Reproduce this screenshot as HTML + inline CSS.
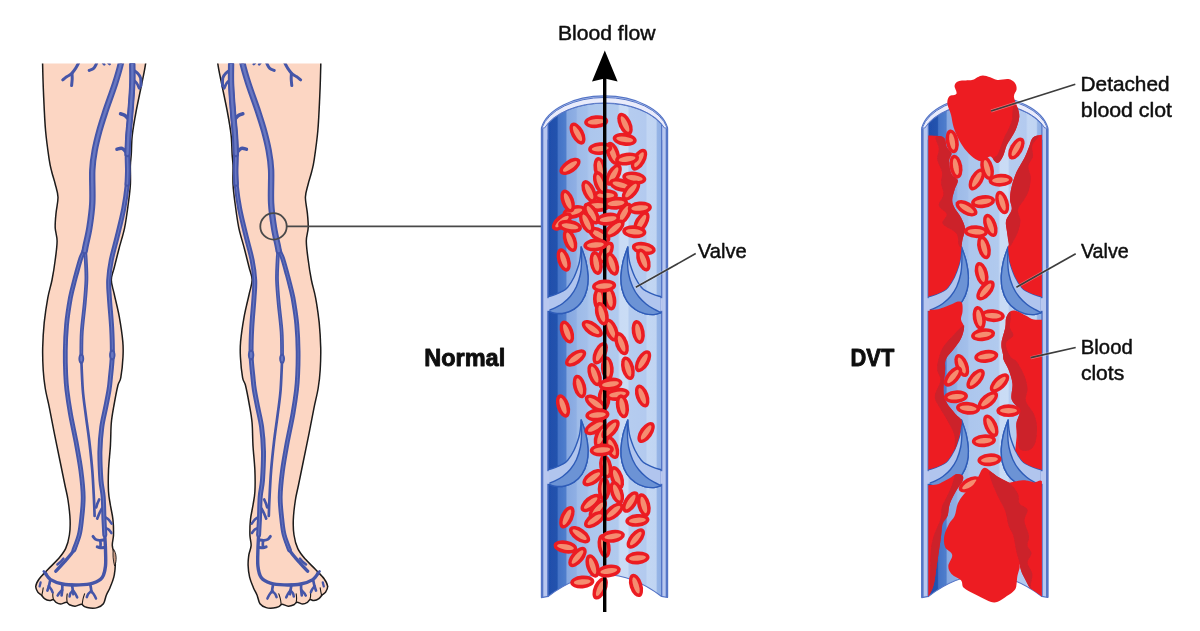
<!DOCTYPE html>
<html><head><meta charset="utf-8"><title>DVT diagram</title>
<style>html,body{margin:0;padding:0;background:#fff}body{width:1200px;height:631px;overflow:hidden;font-family:"Liberation Sans",sans-serif}svg{display:block}text{font-family:"Liberation Sans",sans-serif}</style>
</head><body>
<svg width="1200" height="631" viewBox="0 0 1200 631">
<defs>
<clipPath id="legclip"><rect x="0" y="63.4" width="200" height="570"/></clipPath>
<linearGradient id="lumN" gradientUnits="userSpaceOnUse" x1="547.5" y1="0" x2="662" y2="0"><stop offset="0.0000" stop-color="#1f4fab"/><stop offset="0.0830" stop-color="#2152ae"/><stop offset="0.0952" stop-color="#4473c6"/><stop offset="0.1581" stop-color="#4f7dcc"/><stop offset="0.1721" stop-color="#86a8e0"/><stop offset="0.2489" stop-color="#8fafe4"/><stop offset="0.2629" stop-color="#9ebbe8"/><stop offset="0.3450" stop-color="#a3bfea"/><stop offset="0.3624" stop-color="#acc6ed"/><stop offset="0.6157" stop-color="#b1caee"/><stop offset="0.6332" stop-color="#c9dbf5"/><stop offset="0.6996" stop-color="#cadcf5"/><stop offset="0.7153" stop-color="#b5ccef"/><stop offset="0.8568" stop-color="#b3caef"/><stop offset="0.8725" stop-color="#c2d6f3"/><stop offset="0.9476" stop-color="#c0d4f2"/><stop offset="0.9598" stop-color="#96b4e6"/><stop offset="1.0000" stop-color="#8eaee3"/></linearGradient><clipPath id="lumclipN"><path d="M548,123.4 A64,38.4 0 0 1 661.6,124.1 L661.6,596.5 Q604.5,553 548,596.5 Z"/></clipPath>
<linearGradient id="lumD" gradientUnits="userSpaceOnUse" x1="927.8" y1="0" x2="1042.3" y2="0"><stop offset="0.0000" stop-color="#1f4fab"/><stop offset="0.0830" stop-color="#2152ae"/><stop offset="0.0952" stop-color="#4473c6"/><stop offset="0.1581" stop-color="#4f7dcc"/><stop offset="0.1721" stop-color="#86a8e0"/><stop offset="0.2489" stop-color="#8fafe4"/><stop offset="0.2629" stop-color="#9ebbe8"/><stop offset="0.3450" stop-color="#a3bfea"/><stop offset="0.3624" stop-color="#acc6ed"/><stop offset="0.6157" stop-color="#b1caee"/><stop offset="0.6332" stop-color="#c9dbf5"/><stop offset="0.6996" stop-color="#cadcf5"/><stop offset="0.7153" stop-color="#b5ccef"/><stop offset="0.8568" stop-color="#b3caef"/><stop offset="0.8725" stop-color="#c2d6f3"/><stop offset="0.9476" stop-color="#c0d4f2"/><stop offset="0.9598" stop-color="#96b4e6"/><stop offset="1.0000" stop-color="#8eaee3"/></linearGradient><clipPath id="lumclipD"><path d="M928.3,123.4 A64,38.4 0 0 1 1041.9,124.1 L1041.9,596.5 Q984.8,553 928.3,596.5 Z"/></clipPath>
<clipPath id="clipbelowD"><path d="M900,0 L1100,0 L1100,596.3 L1041.9,596.3 Q984.8,553 928.3,596.3 L900,596.3Z"/></clipPath>
<filter id="soft" x="-2%" y="-2%" width="104%" height="104%"><feGaussianBlur stdDeviation="0.55"/></filter>
</defs>
<rect width="1200" height="631" fill="#fff"/>
<g filter="url(#soft)">
<g id="leg-left"><g clip-path="url(#legclip)"><path d="M42.2,40C24.6,43.9 42.4,54.8 42.6,63.6C42.8,72.4 43,81.8 43.5,93C44,104.2 44.6,119.9 45.6,131C46.6,142.1 48.2,152.8 49.2,159.6C50.2,166.4 50.8,167.9 51.8,172C52.8,176.1 54.2,179.8 55.2,184C56.2,188.2 57.9,192.5 58,197.3C58.1,202.1 56.6,207.5 56.1,212.6C55.6,217.7 55,223.1 55.2,227.8C55.4,232.5 57.1,235.6 57.1,241C57.1,246.4 56.1,253.5 55.2,260C54.4,266.5 53.2,273.7 52,280C50.8,286.3 49.1,290.7 47.8,297.8C46.5,304.9 45.1,314.4 44.2,322.6C43.4,330.9 42.9,339.4 42.7,347.3C42.5,355.2 42.8,363.2 43.2,370C43.6,376.8 44.2,381.7 45.2,388C46.2,394.3 47.9,400.4 49.4,407.8C50.9,415.2 52.4,423.7 54.2,432.6C56,441.5 58.2,452.4 60,461C61.8,469.6 63.4,477.5 64.7,484C66,490.5 67.1,494 68,500C68.9,506 69.9,514.2 70.1,520C70.3,525.8 70.2,530.2 69.4,535C68.7,539.8 67.5,544.6 65.6,548.6C63.7,552.6 61.1,555.6 58.1,559.1C55.1,562.6 50.7,566.4 47.6,569.7C44.5,573 41.3,576 39.3,578.7C37.3,581.5 36,584 35.8,586.2C35.5,588.5 36.8,590.7 37.8,592.2C38.8,593.7 40.5,594.3 41.6,595.4C42.7,596.5 43.2,597.7 44.5,598.6C45.8,599.5 48,600.4 49.5,600.6C51,600.8 52.3,599.3 53.4,599.6C54.5,599.9 54.8,601.7 56,602.4C57.2,603.1 58.9,604 60.6,604C62.3,604 64.9,602.1 66.4,602.2C67.9,602.3 68,604.1 69.5,604.8C71,605.5 73.2,606.3 75.2,606.2C77.2,606.1 79.9,604.2 81.4,604.3C83,604.4 83.1,606 84.5,606.6C85.9,607.2 87.9,607.8 90,608C92.1,608.2 95,608.3 97.2,607.6C99.4,606.9 101.9,605.9 103.4,603.8C104.9,601.7 105.2,597.9 106.3,595.2C107.4,592.5 108.8,590.7 110,587.7C111.2,584.7 112.9,581 113.8,577.2C114.7,573.4 115.2,568.9 115.3,565.1C115.4,561.3 115,557.9 114.5,554.6C114,551.4 112.5,548.9 112.3,545.6C112.1,542.3 113.4,539.3 113.5,535C113.6,530.7 113.5,525 113,520C112.5,515 111.2,509.9 110.4,505.2C109.7,500.4 108.8,497.3 108.5,491.5C108.2,485.7 108.2,478.2 108.5,470.6C108.8,463 109.9,453.8 110.4,445.9C110.9,438 110.7,430 111.3,423C111.9,416 113.1,410.3 114.2,404C115.3,397.7 116.9,389.4 118,385C119.1,380.6 120,382.4 120.8,377.7C121.6,373 122.7,362.8 123,356.8C123.3,350.8 123.4,348.2 122.8,341.6C122.2,335 120.7,324.8 119.3,316.9C117.9,309 115.5,300.1 114.2,294C112.9,287.9 111.3,284.4 111.3,280C111.3,275.6 112.9,272.9 114.2,267.7C115.5,262.5 117.3,255.3 119,248.7C120.7,242 123,235.4 124.6,227.8C126.2,220.2 127.4,210.3 128.4,203C129.4,195.7 130.1,190.3 130.4,184C130.7,177.7 130.2,170 130.4,165C130.6,160 131,159 131.3,154C131.6,149 131.5,142 132.3,135C133.1,128 134.4,120.6 136,112C137.6,103.4 140.2,91.6 141.8,83.5C143.4,75.4 144.6,70.8 145.6,63.6C146.6,56.4 165.2,43.9 148,40C130.8,36.1 59.8,36.1 42.2,40Z" fill="#fcd6c3" stroke="#1d1a1a" stroke-width="1.5" stroke-linejoin="round"/><path d="M113.4,549 C116.6,553 117,561 114.6,566 C113.2,561 112.4,554 113.4,549Z" fill="#c99b84" stroke="#1d1a1a" stroke-width="0.9"/><path d="M41.8,595.4C41.9,594.8 42.4,592.9 42.6,591.6C42.8,590.3 43.1,588.4 43.2,587.8" fill="none" stroke="#1d1a1a" stroke-width="1.1" stroke-linecap="round"/><path d="M53.6,600C53.5,599.3 52.9,597.3 52.8,596C52.7,594.7 52.9,593 52.9,592.4" fill="none" stroke="#1d1a1a" stroke-width="1.1" stroke-linecap="round"/><path d="M67.2,602.6C67.1,601.9 66.8,599.7 66.8,598.2C66.8,596.8 67.1,594.6 67.2,593.9" fill="none" stroke="#1d1a1a" stroke-width="1.1" stroke-linecap="round"/><path d="M82.2,604.6C82.3,603.7 82.6,600.8 83,599C83.4,597.2 84.3,594.7 84.6,593.8" fill="none" stroke="#1d1a1a" stroke-width="1.1" stroke-linecap="round"/><path d="M62.8,79.9C63.5,79.4 65.5,77.6 67,76.6C68.5,75.5 70.2,75 71.6,73.6C73,72.2 74.4,70.2 75.6,68.4C76.8,66.6 78.1,63.9 78.6,63" fill="none" stroke="#4555a8" stroke-width="3" stroke-linecap="round"/><path d="M71.6,85.6C71.7,84.5 72.1,81 72.2,79C72.3,77 72,74.5 72,73.6" fill="none" stroke="#4555a8" stroke-width="3" stroke-linecap="round"/><path d="M89.2,70.4C89.9,70.1 92.5,69.4 93.6,68.4C94.7,67.4 95.4,65.8 96,64.6C96.6,63.4 97.2,61.6 97.4,61" fill="none" stroke="#4555a8" stroke-width="3" stroke-linecap="round"/><path d="M103.2,63.2C103.4,63.4 104,64.2 104.2,64.4" fill="none" stroke="#4555a8" stroke-width="2.6" stroke-linecap="round"/><path d="M108.6,63.2C108.8,63.4 109.4,64 109.6,64.2" fill="none" stroke="#4555a8" stroke-width="2.6" stroke-linecap="round"/><path d="M133,70C133.8,70.5 136.3,71.9 137.6,73.2C138.9,74.5 140.1,75.9 140.6,78C141.1,80.1 140.8,84.7 140.8,86" fill="none" stroke="#4555a8" stroke-width="3" stroke-linecap="round"/><path d="M133,80C133.6,80.5 135.5,81.6 136.6,83C137.7,84.4 138.9,87.5 139.4,88.4" fill="none" stroke="#4555a8" stroke-width="2.8" stroke-linecap="round"/><path d="M120.6,113.8C121.3,114 123.3,114.3 124.6,115.2C125.9,116.1 127.9,118.4 128.6,119" fill="none" stroke="#4555a8" stroke-width="3.6" stroke-linecap="round"/><path d="M117,149.2C117.8,149.1 120.4,147.8 122,148.4C123.6,149 126,151.9 126.8,152.6" fill="none" stroke="#4555a8" stroke-width="3.6" stroke-linecap="round"/><path d="M99.2,499.5C98.9,500.2 97.9,502.3 97.4,503.6C96.9,504.9 96.4,506.8 96.2,507.4" fill="none" stroke="#4555a8" stroke-width="2.7" stroke-linecap="round"/><path d="M101.8,508.6C101.4,509.4 100.2,511.5 99.4,513.2C98.6,514.9 97.6,517.7 97.2,518.6" fill="none" stroke="#4555a8" stroke-width="2.7" stroke-linecap="round"/><path d="M104.8,517C105.4,517.4 107.3,518.3 108.4,519.4C109.5,520.5 111.1,522.9 111.6,523.6" fill="none" stroke="#4555a8" stroke-width="2.6" stroke-linecap="round"/><path d="M105.4,528C105.9,528.2 107.6,528.6 108.6,529.4C109.6,530.2 110.9,532.4 111.4,533" fill="none" stroke="#4555a8" stroke-width="2.6" stroke-linecap="round"/><path d="M93,536.4C93.4,536.9 94.5,538.7 95.6,539.4C96.7,540.1 98.1,540.3 99.6,540.4C101.1,540.5 103.6,539.9 104.4,539.8" fill="none" stroke="#4555a8" stroke-width="2.9" stroke-linecap="round"/><path d="M97.2,546.8C97.7,547 99.2,547.7 100.4,547.8C101.6,547.9 103.7,547.5 104.4,547.4" fill="none" stroke="#4555a8" stroke-width="2.9" stroke-linecap="round"/><path d="M100.2,540.6C100.3,541.2 100.6,542.9 100.6,544C100.6,545.1 100.4,546.8 100.4,547.4" fill="none" stroke="#4555a8" stroke-width="2.7" stroke-linecap="round"/><path d="M57.4,564.4C57.9,564 59.6,562.8 60.6,561.8C61.6,560.8 62.9,559.1 63.4,558.6" fill="none" stroke="#4555a8" stroke-width="2.5" stroke-linecap="round"/><path d="M43.8,571.4C44.2,571.8 45.8,573.2 46.2,573.6" fill="none" stroke="#4555a8" stroke-width="2.5" stroke-linecap="round"/><path d="M50.2,580.2C50,581.1 49.5,583.9 49,585.6C48.5,587.3 47.7,589.8 47.4,590.6" fill="none" stroke="#4555a8" stroke-width="2.7" stroke-linecap="round"/><path d="M48.8,586C49.2,586.6 50.8,588.5 51.4,589.6C52,590.7 52.4,591.9 52.6,592.4" fill="none" stroke="#4555a8" stroke-width="2.5" stroke-linecap="round"/><path d="M40.6,582.4C40.4,583.1 39.8,585.7 39.6,586.4" fill="none" stroke="#4555a8" stroke-width="2.3" stroke-linecap="round"/><path d="M62.4,584.4C62.4,585.3 62.3,588.2 62.2,590C62.1,591.8 61.7,594.5 61.6,595.4" fill="none" stroke="#4555a8" stroke-width="2.7" stroke-linecap="round"/><path d="M62.2,590C61.7,590.5 60,592.3 59.2,593.2C58.4,594.1 57.9,595.2 57.6,595.6" fill="none" stroke="#4555a8" stroke-width="2.5" stroke-linecap="round"/><path d="M72,584.8C72.1,585.7 72.6,588.4 72.8,590C73,591.6 73.3,593.5 73.4,594.2" fill="none" stroke="#4555a8" stroke-width="2.7" stroke-linecap="round"/><path d="M72.9,590.4C73.4,591 74.9,593 75.6,594.2C76.3,595.4 76.9,596.9 77.2,597.4" fill="none" stroke="#4555a8" stroke-width="2.5" stroke-linecap="round"/><path d="M72.9,590.4C72.5,590.9 71,592.4 70.4,593.4C69.9,594.4 69.7,596.1 69.6,596.6" fill="none" stroke="#4555a8" stroke-width="2.5" stroke-linecap="round"/><path d="M90.2,584C90.3,584.7 90.8,587 91,588.4C91.2,589.8 91.3,591.6 91.4,592.2" fill="none" stroke="#4555a8" stroke-width="2.7" stroke-linecap="round"/><path d="M91.2,591C91.7,591.6 93.2,593.3 94,594.6C94.8,595.9 95.7,597.9 96,598.6" fill="none" stroke="#4555a8" stroke-width="2.5" stroke-linecap="round"/><path d="M91.2,591C90.7,591.5 88.9,593 88.2,594C87.5,595 87,596.7 86.8,597.2" fill="none" stroke="#4555a8" stroke-width="2.5" stroke-linecap="round"/><path d="M81.3,358.7C81.5,363.9 82.1,380.9 82.8,390C83.5,399.1 84.5,404.8 85.6,413.5C86.7,422.2 88.3,432.5 89.4,442C90.5,451.5 91.5,460.9 92.3,470.6C93.1,480.3 93.6,492.4 94,500C94.4,507.6 94.5,513.3 94.6,516" fill="none" stroke="#4555a8" stroke-width="2.7" stroke-linecap="round" stroke-linejoin="round"/><path d="M85,250C85.1,251.7 85.6,255 85.8,260C86,265 86.6,272.8 86.4,280C86.2,287.2 85.5,294.8 84.7,303.5C83.9,312.2 82.4,322.8 81.8,332C81.2,341.2 81.4,354.2 81.3,358.7" fill="none" stroke="#4555a8" stroke-width="3.8" stroke-linecap="round" stroke-linejoin="round"/><path d="M85,250C85.1,251.7 85.6,255 85.8,260C86,265 86.6,272.8 86.4,280C86.2,287.2 85.5,294.8 84.7,303.5C83.9,312.2 82.4,322.8 81.8,332C81.2,341.2 81.4,354.2 81.3,358.7" fill="none" stroke="#6877c1" stroke-width="0.7" stroke-linecap="round" stroke-linejoin="round"/><path d="M79.2,535C78.3,537.5 76.4,545.5 73.9,550C71.4,554.5 67.1,558.6 64.1,562.1C61.1,565.6 57.2,569.7 55.8,571.2" fill="none" stroke="#4555a8" stroke-width="3.4" stroke-linecap="round" stroke-linejoin="round"/><path d="M85.6,246C85.3,247 84.4,250 83.6,252C82.8,254 82,254.8 80.9,258C79.8,261.2 78,267.8 77,271.5C76,275.2 75.8,275.6 74.7,280C73.6,284.4 71.8,290.4 70.4,297.8C69.1,305.2 67.4,315.6 66.6,324.5C65.8,333.4 65.4,342.8 65.3,351C65.2,359.2 65.4,367.5 65.7,374C66,380.5 66.1,383.4 66.9,390C67.7,396.6 68.9,404.8 70.4,413.5C71.9,422.2 74.3,432.5 76.1,442C77.8,451.5 79.7,461.4 80.9,470.6C82.1,479.8 83.1,488.8 83.2,497C83.3,505.2 82.2,513.7 81.5,520C80.8,526.3 80.5,530 79.2,535C77.9,540 74.8,547.5 73.9,550" fill="none" stroke="#4555a8" stroke-width="4.8" stroke-linecap="round" stroke-linejoin="round"/><path d="M85.6,246C85.3,247 84.4,250 83.6,252C82.8,254 82,254.8 80.9,258C79.8,261.2 78,267.8 77,271.5C76,275.2 75.8,275.6 74.7,280C73.6,284.4 71.8,290.4 70.4,297.8C69.1,305.2 67.4,315.6 66.6,324.5C65.8,333.4 65.4,342.8 65.3,351C65.2,359.2 65.4,367.5 65.7,374C66,380.5 66.1,383.4 66.9,390C67.7,396.6 68.9,404.8 70.4,413.5C71.9,422.2 74.3,432.5 76.1,442C77.8,451.5 79.7,461.4 80.9,470.6C82.1,479.8 83.1,488.8 83.2,497C83.3,505.2 82.2,513.7 81.5,520C80.8,526.3 80.5,530 79.2,535C77.9,540 74.8,547.5 73.9,550" fill="none" stroke="#6877c1" stroke-width="0.9" stroke-linecap="round" stroke-linejoin="round"/><path d="M104,520C104.1,522.5 104.5,530 104.8,535C105,540 105.4,544.8 105.5,550C105.6,555.2 106,561.4 105.5,566C105,570.6 104.3,574.6 102.2,577.5C100.1,580.4 96.8,582 93,583.2C89.2,584.4 84.3,584.8 79.2,584.9C74.1,585 67.4,584.9 62.6,584C57.8,583.1 53.5,581.4 50.6,579.6C47.7,577.8 46.2,574.4 45.3,573.4" fill="none" stroke="#4555a8" stroke-width="3.4" stroke-linecap="round" stroke-linejoin="round"/><path d="M132.3,50C132.3,52.3 132.3,58 132.3,63.6C132.3,69.2 132.6,75.4 132.3,83.5C132,91.6 131.1,103.4 130.4,112C129.8,120.6 128.9,128 128.4,135C127.9,142 127.6,148.2 127.5,154C127.4,159.8 127.8,165 127.8,170C127.8,175 128,177.5 127.3,184C126.6,190.5 125.4,199.9 123.7,208.8C122,217.7 119.1,228.8 117,237.3C114.9,245.8 112.7,252.9 111.3,260C109.9,267.1 109,273.7 108.7,280C108.4,286.3 108.9,289.8 109.4,297.8C109.9,305.9 111.2,318.8 111.7,328.3C112.2,337.8 112.5,346.8 112.3,355C112.1,363.2 111,371.9 110.4,377.7C109.9,383.5 109.8,385 109,390C108.2,395 106.8,401.7 105.6,407.8C104.4,413.9 102.8,419.6 101.8,426.9C100.8,434.2 100.1,442.8 99.9,451.6C99.8,460.5 100.4,472.4 100.9,480C101.5,487.6 102.7,490.3 103.2,497C103.7,503.7 103.7,513.7 104,520C104.3,526.3 104.7,532.5 104.8,535" fill="none" stroke="#4555a8" stroke-width="5" stroke-linecap="round" stroke-linejoin="round"/><path d="M132.3,50C132.3,52.3 132.3,58 132.3,63.6C132.3,69.2 132.6,75.4 132.3,83.5C132,91.6 131.1,103.4 130.4,112C129.8,120.6 128.9,128 128.4,135C127.9,142 127.6,148.2 127.5,154C127.4,159.8 127.8,165 127.8,170C127.8,175 128,177.5 127.3,184C126.6,190.5 125.4,199.9 123.7,208.8C122,217.7 119.1,228.8 117,237.3C114.9,245.8 112.7,252.9 111.3,260C109.9,267.1 109,273.7 108.7,280C108.4,286.3 108.9,289.8 109.4,297.8C109.9,305.9 111.2,318.8 111.7,328.3C112.2,337.8 112.5,346.8 112.3,355C112.1,363.2 111,371.9 110.4,377.7C109.9,383.5 109.8,385 109,390C108.2,395 106.8,401.7 105.6,407.8C104.4,413.9 102.8,419.6 101.8,426.9C100.8,434.2 100.1,442.8 99.9,451.6C99.8,460.5 100.4,472.4 100.9,480C101.5,487.6 102.7,490.3 103.2,497C103.7,503.7 103.7,513.7 104,520C104.3,526.3 104.7,532.5 104.8,535" fill="none" stroke="#6877c1" stroke-width="1.1" stroke-linecap="round" stroke-linejoin="round"/><path d="M132.3,50C132.3,52.3 132.3,58 132.3,63.6C132.3,69.2 132.6,75.4 132.3,83.5C132,91.6 131.1,103.4 130.4,112C129.8,120.6 128.9,128 128.4,135C127.9,142 127.6,148.2 127.5,154C127.4,159.8 127.8,165 127.8,170C127.8,175 127.4,181.7 127.3,184" fill="none" stroke="#4555a8" stroke-width="5.6" stroke-linecap="round" stroke-linejoin="round"/><path d="M132.3,50C132.3,52.3 132.3,58 132.3,63.6C132.3,69.2 132.6,75.4 132.3,83.5C132,91.6 131.1,103.4 130.4,112C129.8,120.6 128.9,128 128.4,135C127.9,142 127.6,148.2 127.5,154C127.4,159.8 127.8,165 127.8,170C127.8,175 127.4,181.7 127.3,184" fill="none" stroke="#6877c1" stroke-width="1.7" stroke-linecap="round" stroke-linejoin="round"/><path d="M132.3,50C132.3,52.3 132.3,58 132.3,63.6C132.3,69.2 132.6,75.4 132.3,83.5C132,91.6 131.1,103.4 130.4,112C129.8,120.6 128.9,128 128.4,135C127.9,142 127.7,150.8 127.5,154" fill="none" stroke="#4555a8" stroke-width="6.3" stroke-linecap="round" stroke-linejoin="round"/><path d="M132.3,50C132.3,52.3 132.3,58 132.3,63.6C132.3,69.2 132.6,75.4 132.3,83.5C132,91.6 131.1,103.4 130.4,112C129.8,120.6 128.9,128 128.4,135C127.9,142 127.7,150.8 127.5,154" fill="none" stroke="#6877c1" stroke-width="2.4" stroke-linecap="round" stroke-linejoin="round"/><path d="M123,50C122.6,52.3 122.1,58 120.8,63.6C119.5,69.2 117.7,75.4 115.1,83.5C112.5,91.6 107.8,104.1 105.2,112C102.6,119.9 101,124.7 99.3,131C97.6,137.3 96,143.5 94.8,150C93.6,156.5 92.7,161.2 92.3,170C91.9,178.8 92.8,193.4 92.3,203C91.8,212.6 90.5,220.8 89.4,227.8C88.3,234.8 86.6,241.1 85.8,245C85,248.9 84.9,250 84.7,251" fill="none" stroke="#4555a8" stroke-width="6.4" stroke-linecap="round" stroke-linejoin="round"/><path d="M123,50C122.6,52.3 122.1,58 120.8,63.6C119.5,69.2 117.7,75.4 115.1,83.5C112.5,91.6 107.8,104.1 105.2,112C102.6,119.9 101,124.7 99.3,131C97.6,137.3 96,143.5 94.8,150C93.6,156.5 92.7,161.2 92.3,170C91.9,178.8 92.8,193.4 92.3,203C91.8,212.6 90.5,220.8 89.4,227.8C88.3,234.8 86.6,241.1 85.8,245C85,248.9 84.9,250 84.7,251" fill="none" stroke="#6877c1" stroke-width="2.5" stroke-linecap="round" stroke-linejoin="round"/><ellipse cx="81.3" cy="358.7" rx="2.9" ry="5.2" fill="#4555a8"/><ellipse cx="81.3" cy="358.7" rx="1.1" ry="3" fill="#6877c1"/><ellipse cx="112.3" cy="355" rx="3.2" ry="5.4" fill="#4555a8"/><ellipse cx="112.3" cy="355" rx="1.3" ry="3.2" fill="#6877c1"/></g></g>
<g id="leg-right" transform="translate(363.4,0) scale(-1,1)"><g clip-path="url(#legclip)"><path d="M42.2,40C24.6,43.9 42.4,54.8 42.6,63.6C42.8,72.4 43,81.8 43.5,93C44,104.2 44.6,119.9 45.6,131C46.6,142.1 48.2,152.8 49.2,159.6C50.2,166.4 50.8,167.9 51.8,172C52.8,176.1 54.2,179.8 55.2,184C56.2,188.2 57.9,192.5 58,197.3C58.1,202.1 56.6,207.5 56.1,212.6C55.6,217.7 55,223.1 55.2,227.8C55.4,232.5 57.1,235.6 57.1,241C57.1,246.4 56.1,253.5 55.2,260C54.4,266.5 53.2,273.7 52,280C50.8,286.3 49.1,290.7 47.8,297.8C46.5,304.9 45.1,314.4 44.2,322.6C43.4,330.9 42.9,339.4 42.7,347.3C42.5,355.2 42.8,363.2 43.2,370C43.6,376.8 44.2,381.7 45.2,388C46.2,394.3 47.9,400.4 49.4,407.8C50.9,415.2 52.4,423.7 54.2,432.6C56,441.5 58.2,452.4 60,461C61.8,469.6 63.4,477.5 64.7,484C66,490.5 67.1,494 68,500C68.9,506 69.9,514.2 70.1,520C70.3,525.8 70.2,530.2 69.4,535C68.7,539.8 67.5,544.6 65.6,548.6C63.7,552.6 61.1,555.6 58.1,559.1C55.1,562.6 50.7,566.4 47.6,569.7C44.5,573 41.3,576 39.3,578.7C37.3,581.5 36,584 35.8,586.2C35.5,588.5 36.8,590.7 37.8,592.2C38.8,593.7 40.5,594.3 41.6,595.4C42.7,596.5 43.2,597.7 44.5,598.6C45.8,599.5 48,600.4 49.5,600.6C51,600.8 52.3,599.3 53.4,599.6C54.5,599.9 54.8,601.7 56,602.4C57.2,603.1 58.9,604 60.6,604C62.3,604 64.9,602.1 66.4,602.2C67.9,602.3 68,604.1 69.5,604.8C71,605.5 73.2,606.3 75.2,606.2C77.2,606.1 79.9,604.2 81.4,604.3C83,604.4 83.1,606 84.5,606.6C85.9,607.2 87.9,607.8 90,608C92.1,608.2 95,608.3 97.2,607.6C99.4,606.9 101.9,605.9 103.4,603.8C104.9,601.7 105.2,597.9 106.3,595.2C107.4,592.5 108.8,590.7 110,587.7C111.2,584.7 112.9,581 113.8,577.2C114.7,573.4 115.2,568.9 115.3,565.1C115.4,561.3 115,557.9 114.5,554.6C114,551.4 112.5,548.9 112.3,545.6C112.1,542.3 113.4,539.3 113.5,535C113.6,530.7 113.5,525 113,520C112.5,515 111.2,509.9 110.4,505.2C109.7,500.4 108.8,497.3 108.5,491.5C108.2,485.7 108.2,478.2 108.5,470.6C108.8,463 109.9,453.8 110.4,445.9C110.9,438 110.7,430 111.3,423C111.9,416 113.1,410.3 114.2,404C115.3,397.7 116.9,389.4 118,385C119.1,380.6 120,382.4 120.8,377.7C121.6,373 122.7,362.8 123,356.8C123.3,350.8 123.4,348.2 122.8,341.6C122.2,335 120.7,324.8 119.3,316.9C117.9,309 115.5,300.1 114.2,294C112.9,287.9 111.3,284.4 111.3,280C111.3,275.6 112.9,272.9 114.2,267.7C115.5,262.5 117.3,255.3 119,248.7C120.7,242 123,235.4 124.6,227.8C126.2,220.2 127.4,210.3 128.4,203C129.4,195.7 130.1,190.3 130.4,184C130.7,177.7 130.2,170 130.4,165C130.6,160 131,159 131.3,154C131.6,149 131.5,142 132.3,135C133.1,128 134.4,120.6 136,112C137.6,103.4 140.2,91.6 141.8,83.5C143.4,75.4 144.6,70.8 145.6,63.6C146.6,56.4 165.2,43.9 148,40C130.8,36.1 59.8,36.1 42.2,40Z" fill="#fcd6c3" stroke="#1d1a1a" stroke-width="1.5" stroke-linejoin="round"/><path d="M41.8,595.4C41.9,594.8 42.4,592.9 42.6,591.6C42.8,590.3 43.1,588.4 43.2,587.8" fill="none" stroke="#1d1a1a" stroke-width="1.1" stroke-linecap="round"/><path d="M53.6,600C53.5,599.3 52.9,597.3 52.8,596C52.7,594.7 52.9,593 52.9,592.4" fill="none" stroke="#1d1a1a" stroke-width="1.1" stroke-linecap="round"/><path d="M67.2,602.6C67.1,601.9 66.8,599.7 66.8,598.2C66.8,596.8 67.1,594.6 67.2,593.9" fill="none" stroke="#1d1a1a" stroke-width="1.1" stroke-linecap="round"/><path d="M82.2,604.6C82.3,603.7 82.6,600.8 83,599C83.4,597.2 84.3,594.7 84.6,593.8" fill="none" stroke="#1d1a1a" stroke-width="1.1" stroke-linecap="round"/><path d="M62.8,79.9C63.5,79.4 65.5,77.6 67,76.6C68.5,75.5 70.2,75 71.6,73.6C73,72.2 74.4,70.2 75.6,68.4C76.8,66.6 78.1,63.9 78.6,63" fill="none" stroke="#4555a8" stroke-width="3" stroke-linecap="round"/><path d="M71.6,85.6C71.7,84.5 72.1,81 72.2,79C72.3,77 72,74.5 72,73.6" fill="none" stroke="#4555a8" stroke-width="3" stroke-linecap="round"/><path d="M89.2,70.4C89.9,70.1 92.5,69.4 93.6,68.4C94.7,67.4 95.4,65.8 96,64.6C96.6,63.4 97.2,61.6 97.4,61" fill="none" stroke="#4555a8" stroke-width="3" stroke-linecap="round"/><path d="M103.2,63.2C103.4,63.4 104,64.2 104.2,64.4" fill="none" stroke="#4555a8" stroke-width="2.6" stroke-linecap="round"/><path d="M108.6,63.2C108.8,63.4 109.4,64 109.6,64.2" fill="none" stroke="#4555a8" stroke-width="2.6" stroke-linecap="round"/><path d="M133,70C133.8,70.5 136.3,71.9 137.6,73.2C138.9,74.5 140.1,75.9 140.6,78C141.1,80.1 140.8,84.7 140.8,86" fill="none" stroke="#4555a8" stroke-width="3" stroke-linecap="round"/><path d="M133,80C133.6,80.5 135.5,81.6 136.6,83C137.7,84.4 138.9,87.5 139.4,88.4" fill="none" stroke="#4555a8" stroke-width="2.8" stroke-linecap="round"/><path d="M120.6,113.8C121.3,114 123.3,114.3 124.6,115.2C125.9,116.1 127.9,118.4 128.6,119" fill="none" stroke="#4555a8" stroke-width="3.6" stroke-linecap="round"/><path d="M117,149.2C117.8,149.1 120.4,147.8 122,148.4C123.6,149 126,151.9 126.8,152.6" fill="none" stroke="#4555a8" stroke-width="3.6" stroke-linecap="round"/><path d="M99.2,499.5C98.9,500.2 97.9,502.3 97.4,503.6C96.9,504.9 96.4,506.8 96.2,507.4" fill="none" stroke="#4555a8" stroke-width="2.7" stroke-linecap="round"/><path d="M101.8,508.6C101.4,509.4 100.2,511.5 99.4,513.2C98.6,514.9 97.6,517.7 97.2,518.6" fill="none" stroke="#4555a8" stroke-width="2.7" stroke-linecap="round"/><path d="M104.8,517C105.4,517.4 107.3,518.3 108.4,519.4C109.5,520.5 111.1,522.9 111.6,523.6" fill="none" stroke="#4555a8" stroke-width="2.6" stroke-linecap="round"/><path d="M105.4,528C105.9,528.2 107.6,528.6 108.6,529.4C109.6,530.2 110.9,532.4 111.4,533" fill="none" stroke="#4555a8" stroke-width="2.6" stroke-linecap="round"/><path d="M93,536.4C93.4,536.9 94.5,538.7 95.6,539.4C96.7,540.1 98.1,540.3 99.6,540.4C101.1,540.5 103.6,539.9 104.4,539.8" fill="none" stroke="#4555a8" stroke-width="2.9" stroke-linecap="round"/><path d="M97.2,546.8C97.7,547 99.2,547.7 100.4,547.8C101.6,547.9 103.7,547.5 104.4,547.4" fill="none" stroke="#4555a8" stroke-width="2.9" stroke-linecap="round"/><path d="M100.2,540.6C100.3,541.2 100.6,542.9 100.6,544C100.6,545.1 100.4,546.8 100.4,547.4" fill="none" stroke="#4555a8" stroke-width="2.7" stroke-linecap="round"/><path d="M57.4,564.4C57.9,564 59.6,562.8 60.6,561.8C61.6,560.8 62.9,559.1 63.4,558.6" fill="none" stroke="#4555a8" stroke-width="2.5" stroke-linecap="round"/><path d="M43.8,571.4C44.2,571.8 45.8,573.2 46.2,573.6" fill="none" stroke="#4555a8" stroke-width="2.5" stroke-linecap="round"/><path d="M50.2,580.2C50,581.1 49.5,583.9 49,585.6C48.5,587.3 47.7,589.8 47.4,590.6" fill="none" stroke="#4555a8" stroke-width="2.7" stroke-linecap="round"/><path d="M48.8,586C49.2,586.6 50.8,588.5 51.4,589.6C52,590.7 52.4,591.9 52.6,592.4" fill="none" stroke="#4555a8" stroke-width="2.5" stroke-linecap="round"/><path d="M40.6,582.4C40.4,583.1 39.8,585.7 39.6,586.4" fill="none" stroke="#4555a8" stroke-width="2.3" stroke-linecap="round"/><path d="M62.4,584.4C62.4,585.3 62.3,588.2 62.2,590C62.1,591.8 61.7,594.5 61.6,595.4" fill="none" stroke="#4555a8" stroke-width="2.7" stroke-linecap="round"/><path d="M62.2,590C61.7,590.5 60,592.3 59.2,593.2C58.4,594.1 57.9,595.2 57.6,595.6" fill="none" stroke="#4555a8" stroke-width="2.5" stroke-linecap="round"/><path d="M72,584.8C72.1,585.7 72.6,588.4 72.8,590C73,591.6 73.3,593.5 73.4,594.2" fill="none" stroke="#4555a8" stroke-width="2.7" stroke-linecap="round"/><path d="M72.9,590.4C73.4,591 74.9,593 75.6,594.2C76.3,595.4 76.9,596.9 77.2,597.4" fill="none" stroke="#4555a8" stroke-width="2.5" stroke-linecap="round"/><path d="M72.9,590.4C72.5,590.9 71,592.4 70.4,593.4C69.9,594.4 69.7,596.1 69.6,596.6" fill="none" stroke="#4555a8" stroke-width="2.5" stroke-linecap="round"/><path d="M90.2,584C90.3,584.7 90.8,587 91,588.4C91.2,589.8 91.3,591.6 91.4,592.2" fill="none" stroke="#4555a8" stroke-width="2.7" stroke-linecap="round"/><path d="M91.2,591C91.7,591.6 93.2,593.3 94,594.6C94.8,595.9 95.7,597.9 96,598.6" fill="none" stroke="#4555a8" stroke-width="2.5" stroke-linecap="round"/><path d="M91.2,591C90.7,591.5 88.9,593 88.2,594C87.5,595 87,596.7 86.8,597.2" fill="none" stroke="#4555a8" stroke-width="2.5" stroke-linecap="round"/><path d="M81.3,358.7C81.5,363.9 82.1,380.9 82.8,390C83.5,399.1 84.5,404.8 85.6,413.5C86.7,422.2 88.3,432.5 89.4,442C90.5,451.5 91.5,460.9 92.3,470.6C93.1,480.3 93.6,492.4 94,500C94.4,507.6 94.5,513.3 94.6,516" fill="none" stroke="#4555a8" stroke-width="2.7" stroke-linecap="round" stroke-linejoin="round"/><path d="M85,250C85.1,251.7 85.6,255 85.8,260C86,265 86.6,272.8 86.4,280C86.2,287.2 85.5,294.8 84.7,303.5C83.9,312.2 82.4,322.8 81.8,332C81.2,341.2 81.4,354.2 81.3,358.7" fill="none" stroke="#4555a8" stroke-width="3.8" stroke-linecap="round" stroke-linejoin="round"/><path d="M85,250C85.1,251.7 85.6,255 85.8,260C86,265 86.6,272.8 86.4,280C86.2,287.2 85.5,294.8 84.7,303.5C83.9,312.2 82.4,322.8 81.8,332C81.2,341.2 81.4,354.2 81.3,358.7" fill="none" stroke="#6877c1" stroke-width="0.7" stroke-linecap="round" stroke-linejoin="round"/><path d="M79.2,535C78.3,537.5 76.4,545.5 73.9,550C71.4,554.5 67.1,558.6 64.1,562.1C61.1,565.6 57.2,569.7 55.8,571.2" fill="none" stroke="#4555a8" stroke-width="3.4" stroke-linecap="round" stroke-linejoin="round"/><path d="M85.6,246C85.3,247 84.4,250 83.6,252C82.8,254 82,254.8 80.9,258C79.8,261.2 78,267.8 77,271.5C76,275.2 75.8,275.6 74.7,280C73.6,284.4 71.8,290.4 70.4,297.8C69.1,305.2 67.4,315.6 66.6,324.5C65.8,333.4 65.4,342.8 65.3,351C65.2,359.2 65.4,367.5 65.7,374C66,380.5 66.1,383.4 66.9,390C67.7,396.6 68.9,404.8 70.4,413.5C71.9,422.2 74.3,432.5 76.1,442C77.8,451.5 79.7,461.4 80.9,470.6C82.1,479.8 83.1,488.8 83.2,497C83.3,505.2 82.2,513.7 81.5,520C80.8,526.3 80.5,530 79.2,535C77.9,540 74.8,547.5 73.9,550" fill="none" stroke="#4555a8" stroke-width="4.8" stroke-linecap="round" stroke-linejoin="round"/><path d="M85.6,246C85.3,247 84.4,250 83.6,252C82.8,254 82,254.8 80.9,258C79.8,261.2 78,267.8 77,271.5C76,275.2 75.8,275.6 74.7,280C73.6,284.4 71.8,290.4 70.4,297.8C69.1,305.2 67.4,315.6 66.6,324.5C65.8,333.4 65.4,342.8 65.3,351C65.2,359.2 65.4,367.5 65.7,374C66,380.5 66.1,383.4 66.9,390C67.7,396.6 68.9,404.8 70.4,413.5C71.9,422.2 74.3,432.5 76.1,442C77.8,451.5 79.7,461.4 80.9,470.6C82.1,479.8 83.1,488.8 83.2,497C83.3,505.2 82.2,513.7 81.5,520C80.8,526.3 80.5,530 79.2,535C77.9,540 74.8,547.5 73.9,550" fill="none" stroke="#6877c1" stroke-width="0.9" stroke-linecap="round" stroke-linejoin="round"/><path d="M104,520C104.1,522.5 104.5,530 104.8,535C105,540 105.4,544.8 105.5,550C105.6,555.2 106,561.4 105.5,566C105,570.6 104.3,574.6 102.2,577.5C100.1,580.4 96.8,582 93,583.2C89.2,584.4 84.3,584.8 79.2,584.9C74.1,585 67.4,584.9 62.6,584C57.8,583.1 53.5,581.4 50.6,579.6C47.7,577.8 46.2,574.4 45.3,573.4" fill="none" stroke="#4555a8" stroke-width="3.4" stroke-linecap="round" stroke-linejoin="round"/><path d="M132.3,50C132.3,52.3 132.3,58 132.3,63.6C132.3,69.2 132.6,75.4 132.3,83.5C132,91.6 131.1,103.4 130.4,112C129.8,120.6 128.9,128 128.4,135C127.9,142 127.6,148.2 127.5,154C127.4,159.8 127.8,165 127.8,170C127.8,175 128,177.5 127.3,184C126.6,190.5 125.4,199.9 123.7,208.8C122,217.7 119.1,228.8 117,237.3C114.9,245.8 112.7,252.9 111.3,260C109.9,267.1 109,273.7 108.7,280C108.4,286.3 108.9,289.8 109.4,297.8C109.9,305.9 111.2,318.8 111.7,328.3C112.2,337.8 112.5,346.8 112.3,355C112.1,363.2 111,371.9 110.4,377.7C109.9,383.5 109.8,385 109,390C108.2,395 106.8,401.7 105.6,407.8C104.4,413.9 102.8,419.6 101.8,426.9C100.8,434.2 100.1,442.8 99.9,451.6C99.8,460.5 100.4,472.4 100.9,480C101.5,487.6 102.7,490.3 103.2,497C103.7,503.7 103.7,513.7 104,520C104.3,526.3 104.7,532.5 104.8,535" fill="none" stroke="#4555a8" stroke-width="5" stroke-linecap="round" stroke-linejoin="round"/><path d="M132.3,50C132.3,52.3 132.3,58 132.3,63.6C132.3,69.2 132.6,75.4 132.3,83.5C132,91.6 131.1,103.4 130.4,112C129.8,120.6 128.9,128 128.4,135C127.9,142 127.6,148.2 127.5,154C127.4,159.8 127.8,165 127.8,170C127.8,175 128,177.5 127.3,184C126.6,190.5 125.4,199.9 123.7,208.8C122,217.7 119.1,228.8 117,237.3C114.9,245.8 112.7,252.9 111.3,260C109.9,267.1 109,273.7 108.7,280C108.4,286.3 108.9,289.8 109.4,297.8C109.9,305.9 111.2,318.8 111.7,328.3C112.2,337.8 112.5,346.8 112.3,355C112.1,363.2 111,371.9 110.4,377.7C109.9,383.5 109.8,385 109,390C108.2,395 106.8,401.7 105.6,407.8C104.4,413.9 102.8,419.6 101.8,426.9C100.8,434.2 100.1,442.8 99.9,451.6C99.8,460.5 100.4,472.4 100.9,480C101.5,487.6 102.7,490.3 103.2,497C103.7,503.7 103.7,513.7 104,520C104.3,526.3 104.7,532.5 104.8,535" fill="none" stroke="#6877c1" stroke-width="1.1" stroke-linecap="round" stroke-linejoin="round"/><path d="M132.3,50C132.3,52.3 132.3,58 132.3,63.6C132.3,69.2 132.6,75.4 132.3,83.5C132,91.6 131.1,103.4 130.4,112C129.8,120.6 128.9,128 128.4,135C127.9,142 127.6,148.2 127.5,154C127.4,159.8 127.8,165 127.8,170C127.8,175 127.4,181.7 127.3,184" fill="none" stroke="#4555a8" stroke-width="5.6" stroke-linecap="round" stroke-linejoin="round"/><path d="M132.3,50C132.3,52.3 132.3,58 132.3,63.6C132.3,69.2 132.6,75.4 132.3,83.5C132,91.6 131.1,103.4 130.4,112C129.8,120.6 128.9,128 128.4,135C127.9,142 127.6,148.2 127.5,154C127.4,159.8 127.8,165 127.8,170C127.8,175 127.4,181.7 127.3,184" fill="none" stroke="#6877c1" stroke-width="1.7" stroke-linecap="round" stroke-linejoin="round"/><path d="M132.3,50C132.3,52.3 132.3,58 132.3,63.6C132.3,69.2 132.6,75.4 132.3,83.5C132,91.6 131.1,103.4 130.4,112C129.8,120.6 128.9,128 128.4,135C127.9,142 127.7,150.8 127.5,154" fill="none" stroke="#4555a8" stroke-width="6.3" stroke-linecap="round" stroke-linejoin="round"/><path d="M132.3,50C132.3,52.3 132.3,58 132.3,63.6C132.3,69.2 132.6,75.4 132.3,83.5C132,91.6 131.1,103.4 130.4,112C129.8,120.6 128.9,128 128.4,135C127.9,142 127.7,150.8 127.5,154" fill="none" stroke="#6877c1" stroke-width="2.4" stroke-linecap="round" stroke-linejoin="round"/><path d="M123,50C122.6,52.3 122.1,58 120.8,63.6C119.5,69.2 117.7,75.4 115.1,83.5C112.5,91.6 107.8,104.1 105.2,112C102.6,119.9 101,124.7 99.3,131C97.6,137.3 96,143.5 94.8,150C93.6,156.5 92.7,161.2 92.3,170C91.9,178.8 92.8,193.4 92.3,203C91.8,212.6 90.5,220.8 89.4,227.8C88.3,234.8 86.6,241.1 85.8,245C85,248.9 84.9,250 84.7,251" fill="none" stroke="#4555a8" stroke-width="6.4" stroke-linecap="round" stroke-linejoin="round"/><path d="M123,50C122.6,52.3 122.1,58 120.8,63.6C119.5,69.2 117.7,75.4 115.1,83.5C112.5,91.6 107.8,104.1 105.2,112C102.6,119.9 101,124.7 99.3,131C97.6,137.3 96,143.5 94.8,150C93.6,156.5 92.7,161.2 92.3,170C91.9,178.8 92.8,193.4 92.3,203C91.8,212.6 90.5,220.8 89.4,227.8C88.3,234.8 86.6,241.1 85.8,245C85,248.9 84.9,250 84.7,251" fill="none" stroke="#6877c1" stroke-width="2.5" stroke-linecap="round" stroke-linejoin="round"/><ellipse cx="81.3" cy="358.7" rx="2.9" ry="5.2" fill="#4555a8"/><ellipse cx="81.3" cy="358.7" rx="1.1" ry="3" fill="#6877c1"/><ellipse cx="112.3" cy="355" rx="3.2" ry="5.4" fill="#4555a8"/><ellipse cx="112.3" cy="355" rx="1.3" ry="3.2" fill="#6877c1"/></g></g>
<circle cx="273.5" cy="226.4" r="13.2" fill="none" stroke="#4a4a4a" stroke-width="1.8"/>
<line x1="286.8" y1="226.4" x2="541" y2="226.4" stroke="#4a4a4a" stroke-width="1.6"/>
<g id="vein-normal">
<path d="M541.5,127.6 A64,38.4 0 0 1 667.5,127.6 L667.5,597.5 L661.6,596.3 L661.6,140 L548,140 L548,596.3 L541.5,597.7 Z" fill="#b8c7ef" stroke="#5474c6" stroke-width="1.2" stroke-linejoin="round"/><path d="M542.1,128.6 L542.1,597.5" stroke="#5474c6" stroke-width="2.4" fill="none"/><path d="M666.9,128.6 L666.9,597.2" stroke="#5474c6" stroke-width="2.4" fill="none"/><path d="M548,123.4 A64,38.4 0 0 1 661.6,124.1 L661.6,596.5 Q604.5,553 548,596.5 Z" fill="url(#lumN)" stroke="#5474c6" stroke-width="1.2" stroke-linejoin="round"/><path d="M541.9,127.9 A64,38.4 0 0 1 667.1,127.9 L667.1,128 L664.5,128 A64,38.4 0 0 0 544.5,128 L541.9,128 Z" fill="#e9ebfb" stroke="#5474c6" stroke-width="1.0" stroke-linejoin="round"/>
<g clip-path="url(#lumclipN)"><path d="M581.2,247C581.1,248.5 580.8,253.1 580.4,256C580,258.9 579.9,261 578.8,264.5C577.7,268 575.9,273.4 574,277.2C572.1,281 569.6,284.9 567.7,287.2C565.8,289.5 564.7,290 562.6,291.2C560.5,292.4 557.5,293.7 555,294.6C552.5,295.5 549.1,296.4 547.9,296.8L547.9,310.8C549.1,311.2 552.2,312.8 555,313.2C557.8,313.6 561.3,313.7 564.5,313C567.7,312.3 571.1,311.2 574,309.2C576.9,307.2 579.8,304.6 582,301.2C584.2,297.8 586,293.3 587,289C588,284.7 588.2,280.2 588,275.6C587.8,271 587,266.2 585.9,261.4C584.8,256.6 582,249.4 581.2,247Z" fill="#b1c5ee" stroke="#2f5cb8" stroke-width="1.4" stroke-linejoin="round"/><path d="M581.2,247C582,249.4 584.8,256.6 585.9,261.4C587,266.2 587.8,271 588,275.6C588.2,280.2 588,284.7 587,289C586,293.3 584.2,297.8 582,301.2C579.8,304.6 576.9,307.2 574,309.2C571.1,311.2 567.7,312.3 564.5,313C561.3,313.7 557.8,313.6 555,313.2C552.2,312.8 549.1,311.2 547.9,310.8C549.1,310.3 552.5,309.1 555,307.9C557.5,306.7 560.1,305.4 562.6,303.5C565.1,301.6 567.9,299.3 570.2,296.5C572.5,293.7 574.7,290.4 576.4,286.7C578.1,282.9 579.5,278.5 580.4,274C581.3,269.5 581.5,264.3 581.6,259.8C581.7,255.3 581.3,249.1 581.2,247Z" fill="#6c93d5" stroke="#2f5cb8" stroke-width="1.4" stroke-linejoin="round"/><path d="M627.8,247C627.9,248.5 628.2,253.1 628.6,256C629,258.9 629.1,261 630.2,264.5C631.3,268 633.1,273.4 635,277.2C636.9,281 639.4,284.9 641.3,287.2C643.2,289.5 644.3,290 646.4,291.2C648.5,292.4 651.5,293.7 654,294.6C656.5,295.5 659.9,296.4 661.1,296.8L661.1,312.6C659.9,312.9 656.8,314.4 654,314.6C651.2,314.7 647.7,314.6 644.5,313.7C641.3,312.8 637.9,311.3 635,309.2C632.1,307.2 629.2,304.6 627,301.2C624.8,297.8 623,293.3 622,289C621,284.7 620.8,280.2 621,275.6C621.2,271 622,266.2 623.1,261.4C624.2,256.6 627,249.4 627.8,247Z" fill="#b1c5ee" stroke="#2f5cb8" stroke-width="1.4" stroke-linejoin="round"/><path d="M627.8,247C627,249.4 624.2,256.6 623.1,261.4C622,266.2 621.2,271 621,275.6C620.8,280.2 621,284.7 622,289C623,293.3 624.8,297.8 627,301.2C629.2,304.6 632.1,307.2 635,309.2C637.9,311.3 641.3,312.8 644.5,313.7C647.7,314.6 651.2,314.7 654,314.6C656.8,314.4 659.9,312.9 661.1,312.6C659.9,312 656.5,310.6 654,309.2C651.5,307.9 648.9,306.4 646.4,304.3C643.9,302.2 641.1,299.7 638.8,296.8C636.5,293.9 634.3,290.5 632.6,286.7C630.9,282.9 629.5,278.5 628.6,274C627.7,269.5 627.5,264.3 627.4,259.8C627.3,255.3 627.7,249.1 627.8,247Z" fill="#6c93d5" stroke="#2f5cb8" stroke-width="1.4" stroke-linejoin="round"/><path d="M581.2,420C581.1,421.5 580.8,426.1 580.4,429C580,431.9 579.9,434 578.8,437.5C577.7,441 575.9,446.4 574,450.2C572.1,454 569.6,457.9 567.7,460.2C565.8,462.5 564.7,463 562.6,464.2C560.5,465.4 557.5,466.7 555,467.6C552.5,468.5 549.1,469.4 547.9,469.8L547.9,483.8C549.1,484.2 552.2,485.8 555,486.2C557.8,486.6 561.3,486.7 564.5,486C567.7,485.3 571.1,484.2 574,482.2C576.9,480.2 579.8,477.6 582,474.2C584.2,470.8 586,466.3 587,462C588,457.7 588.2,453.2 588,448.6C587.8,444 587,439.2 585.9,434.4C584.8,429.6 582,422.4 581.2,420Z" fill="#b1c5ee" stroke="#2f5cb8" stroke-width="1.4" stroke-linejoin="round"/><path d="M581.2,420C582,422.4 584.8,429.6 585.9,434.4C587,439.2 587.8,444 588,448.6C588.2,453.2 588,457.7 587,462C586,466.3 584.2,470.8 582,474.2C579.8,477.6 576.9,480.2 574,482.2C571.1,484.2 567.7,485.3 564.5,486C561.3,486.7 557.8,486.6 555,486.2C552.2,485.8 549.1,484.2 547.9,483.8C549.1,483.3 552.5,482.1 555,480.9C557.5,479.7 560.1,478.4 562.6,476.5C565.1,474.6 567.9,472.3 570.2,469.5C572.5,466.7 574.7,463.4 576.4,459.7C578.1,455.9 579.5,451.5 580.4,447C581.3,442.5 581.5,437.3 581.6,432.8C581.7,428.3 581.3,422.1 581.2,420Z" fill="#6c93d5" stroke="#2f5cb8" stroke-width="1.4" stroke-linejoin="round"/><path d="M627.8,420C627.9,421.5 628.2,426.1 628.6,429C629,431.9 629.1,434 630.2,437.5C631.3,441 633.1,446.4 635,450.2C636.9,454 639.4,457.9 641.3,460.2C643.2,462.5 644.3,463 646.4,464.2C648.5,465.4 651.5,466.7 654,467.6C656.5,468.5 659.9,469.4 661.1,469.8L661.1,485.6C659.9,485.9 656.8,487.4 654,487.6C651.2,487.7 647.7,487.6 644.5,486.7C641.3,485.8 637.9,484.3 635,482.2C632.1,480.2 629.2,477.6 627,474.2C624.8,470.8 623,466.3 622,462C621,457.7 620.8,453.2 621,448.6C621.2,444 622,439.2 623.1,434.4C624.2,429.6 627,422.4 627.8,420Z" fill="#b1c5ee" stroke="#2f5cb8" stroke-width="1.4" stroke-linejoin="round"/><path d="M627.8,420C627,422.4 624.2,429.6 623.1,434.4C622,439.2 621.2,444 621,448.6C620.8,453.2 621,457.7 622,462C623,466.3 624.8,470.8 627,474.2C629.2,477.6 632.1,480.2 635,482.2C637.9,484.3 641.3,485.8 644.5,486.7C647.7,487.6 651.2,487.7 654,487.6C656.8,487.4 659.9,485.9 661.1,485.6C659.9,485 656.5,483.6 654,482.2C651.5,480.9 648.9,479.4 646.4,477.3C643.9,475.2 641.1,472.7 638.8,469.8C636.5,466.9 634.3,463.5 632.6,459.7C630.9,455.9 629.5,451.5 628.6,447C627.7,442.5 627.5,437.3 627.4,432.8C627.3,428.3 627.7,422.1 627.8,420Z" fill="#6c93d5" stroke="#2f5cb8" stroke-width="1.4" stroke-linejoin="round"/></g>
<rect x="546.7" y="298.2" width="2.6" height="12.6" fill="#b8c7ef"/><rect x="660.3" y="298.2" width="2.6" height="12.6" fill="#b8c7ef"/><rect x="546.7" y="471.2" width="2.6" height="12.6" fill="#b8c7ef"/><rect x="660.3" y="471.2" width="2.6" height="12.6" fill="#b8c7ef"/>
<g transform="translate(612.9,153.4) rotate(70)"><ellipse rx="12.1" ry="6.4" fill="#eb1c24"/><ellipse rx="8.5" ry="2.7" fill="#f58d6f"/></g><g transform="translate(639,159.7) rotate(-60)"><ellipse rx="12.1" ry="6.4" fill="#eb1c24"/><ellipse rx="8.5" ry="2.7" fill="#f58d6f"/></g><g transform="translate(605.7,195.4) rotate(0)"><ellipse rx="12.1" ry="6.4" fill="#eb1c24"/><ellipse rx="8.5" ry="2.7" fill="#f58d6f"/></g><g transform="translate(597.8,205.7) rotate(0)"><ellipse rx="12.1" ry="6.4" fill="#eb1c24"/><ellipse rx="8.5" ry="2.7" fill="#f58d6f"/></g><g transform="translate(574,212) rotate(-15)"><ellipse rx="12.1" ry="6.4" fill="#eb1c24"/><ellipse rx="8.5" ry="2.7" fill="#f58d6f"/></g><g transform="translate(624,213.6) rotate(-60)"><ellipse rx="12.1" ry="6.4" fill="#eb1c24"/><ellipse rx="8.5" ry="2.7" fill="#f58d6f"/></g><g transform="translate(599.4,235) rotate(30)"><ellipse rx="12.1" ry="6.4" fill="#eb1c24"/><ellipse rx="8.5" ry="2.7" fill="#f58d6f"/></g><g transform="translate(599.4,299.4) rotate(88)"><ellipse rx="12.1" ry="6.4" fill="#eb1c24"/><ellipse rx="8.5" ry="2.7" fill="#f58d6f"/></g><g transform="translate(609.7,298.6) rotate(80)"><ellipse rx="12.1" ry="6.4" fill="#eb1c24"/><ellipse rx="8.5" ry="2.7" fill="#f58d6f"/></g><g transform="translate(607.3,368.3) rotate(85)"><ellipse rx="12.1" ry="6.4" fill="#eb1c24"/><ellipse rx="8.5" ry="2.7" fill="#f58d6f"/></g><g transform="translate(604.1,398.4) rotate(90)"><ellipse rx="12.1" ry="6.4" fill="#eb1c24"/><ellipse rx="8.5" ry="2.7" fill="#f58d6f"/></g><g transform="translate(595.4,427) rotate(-30)"><ellipse rx="12.1" ry="6.4" fill="#eb1c24"/><ellipse rx="8.5" ry="2.7" fill="#f58d6f"/></g><g transform="translate(601,436.5) rotate(-70)"><ellipse rx="12.1" ry="6.4" fill="#eb1c24"/><ellipse rx="8.5" ry="2.7" fill="#f58d6f"/></g><g transform="translate(612,447.5) rotate(70)"><ellipse rx="12.1" ry="6.4" fill="#eb1c24"/><ellipse rx="8.5" ry="2.7" fill="#f58d6f"/></g><g transform="translate(597.8,509.3) rotate(-50)"><ellipse rx="12.1" ry="6.4" fill="#eb1c24"/><ellipse rx="8.5" ry="2.7" fill="#f58d6f"/></g><g transform="translate(604.1,546) rotate(80)"><ellipse rx="12.1" ry="6.4" fill="#eb1c24"/><ellipse rx="8.5" ry="2.7" fill="#f58d6f"/></g><g transform="translate(604.1,489) rotate(90)"><ellipse rx="12.1" ry="6.4" fill="#eb1c24"/><ellipse rx="8.5" ry="2.7" fill="#f58d6f"/></g>
<g transform="translate(596.2,121.7) rotate(-5)"><ellipse rx="12.1" ry="6.4" fill="#eb1c24"/><ellipse rx="8.5" ry="2.7" fill="#f58d6f"/></g><g transform="translate(577.5,133.6) rotate(62)"><ellipse rx="12.1" ry="6.4" fill="#eb1c24"/><ellipse rx="8.5" ry="2.7" fill="#f58d6f"/></g><g transform="translate(625,124) rotate(65)"><ellipse rx="12.1" ry="6.4" fill="#eb1c24"/><ellipse rx="8.5" ry="2.7" fill="#f58d6f"/></g><g transform="translate(624.7,139.4) rotate(8)"><ellipse rx="12.1" ry="6.4" fill="#eb1c24"/><ellipse rx="8.5" ry="2.7" fill="#f58d6f"/></g><g transform="translate(600.2,148.6) rotate(-5)"><ellipse rx="12.1" ry="6.4" fill="#eb1c24"/><ellipse rx="8.5" ry="2.7" fill="#f58d6f"/></g><g transform="translate(627.1,159) rotate(-8)"><ellipse rx="12.1" ry="6.4" fill="#eb1c24"/><ellipse rx="8.5" ry="2.7" fill="#f58d6f"/></g><g transform="translate(570,166.4) rotate(-35)"><ellipse rx="12.1" ry="6.4" fill="#eb1c24"/><ellipse rx="8.5" ry="2.7" fill="#f58d6f"/></g><g transform="translate(600,169) rotate(80)"><ellipse rx="12.1" ry="6.4" fill="#eb1c24"/><ellipse rx="8.5" ry="2.7" fill="#f58d6f"/></g><g transform="translate(613.6,174.8) rotate(-60)"><ellipse rx="12.1" ry="6.4" fill="#eb1c24"/><ellipse rx="8.5" ry="2.7" fill="#f58d6f"/></g><g transform="translate(634.3,178) rotate(8)"><ellipse rx="12.1" ry="6.4" fill="#eb1c24"/><ellipse rx="8.5" ry="2.7" fill="#f58d6f"/></g><g transform="translate(600.2,182.7) rotate(70)"><ellipse rx="12.1" ry="6.4" fill="#eb1c24"/><ellipse rx="8.5" ry="2.7" fill="#f58d6f"/></g><g transform="translate(589.1,191.4) rotate(65)"><ellipse rx="12.1" ry="6.4" fill="#eb1c24"/><ellipse rx="8.5" ry="2.7" fill="#f58d6f"/></g><g transform="translate(620.8,185) rotate(15)"><ellipse rx="12.1" ry="6.4" fill="#eb1c24"/><ellipse rx="8.5" ry="2.7" fill="#f58d6f"/></g><g transform="translate(631,190.6) rotate(-50)"><ellipse rx="12.1" ry="6.4" fill="#eb1c24"/><ellipse rx="8.5" ry="2.7" fill="#f58d6f"/></g><g transform="translate(567.7,201) rotate(70)"><ellipse rx="12.1" ry="6.4" fill="#eb1c24"/><ellipse rx="8.5" ry="2.7" fill="#f58d6f"/></g><g transform="translate(616,203.3) rotate(-5)"><ellipse rx="12.1" ry="6.4" fill="#eb1c24"/><ellipse rx="8.5" ry="2.7" fill="#f58d6f"/></g><g transform="translate(639.8,208) rotate(-5)"><ellipse rx="12.1" ry="6.4" fill="#eb1c24"/><ellipse rx="8.5" ry="2.7" fill="#f58d6f"/></g><g transform="translate(591.5,213.6) rotate(60)"><ellipse rx="12.1" ry="6.4" fill="#eb1c24"/><ellipse rx="8.5" ry="2.7" fill="#f58d6f"/></g><g transform="translate(586.7,222.3) rotate(65)"><ellipse rx="12.1" ry="6.4" fill="#eb1c24"/><ellipse rx="8.5" ry="2.7" fill="#f58d6f"/></g><g transform="translate(562,221.5) rotate(-40)"><ellipse rx="12.1" ry="6.4" fill="#eb1c24"/><ellipse rx="8.5" ry="2.7" fill="#f58d6f"/></g><g transform="translate(570,226.3) rotate(10)"><ellipse rx="12.1" ry="6.4" fill="#eb1c24"/><ellipse rx="8.5" ry="2.7" fill="#f58d6f"/></g><g transform="translate(641.4,222.3) rotate(-60)"><ellipse rx="12.1" ry="6.4" fill="#eb1c24"/><ellipse rx="8.5" ry="2.7" fill="#f58d6f"/></g><g transform="translate(634.3,231.8) rotate(5)"><ellipse rx="12.1" ry="6.4" fill="#eb1c24"/><ellipse rx="8.5" ry="2.7" fill="#f58d6f"/></g><g transform="translate(614.4,228.6) rotate(-40)"><ellipse rx="12.1" ry="6.4" fill="#eb1c24"/><ellipse rx="8.5" ry="2.7" fill="#f58d6f"/></g><g transform="translate(570,240.5) rotate(70)"><ellipse rx="12.1" ry="6.4" fill="#eb1c24"/><ellipse rx="8.5" ry="2.7" fill="#f58d6f"/></g><g transform="translate(563.7,260) rotate(72)"><ellipse rx="12.1" ry="6.4" fill="#eb1c24"/><ellipse rx="8.5" ry="2.7" fill="#f58d6f"/></g><g transform="translate(605.7,252.5) rotate(-60)"><ellipse rx="12.1" ry="6.4" fill="#eb1c24"/><ellipse rx="8.5" ry="2.7" fill="#f58d6f"/></g><g transform="translate(643.8,248.5) rotate(10)"><ellipse rx="12.1" ry="6.4" fill="#eb1c24"/><ellipse rx="8.5" ry="2.7" fill="#f58d6f"/></g><g transform="translate(643.4,260) rotate(70)"><ellipse rx="12.1" ry="6.4" fill="#eb1c24"/><ellipse rx="8.5" ry="2.7" fill="#f58d6f"/></g><g transform="translate(596.2,263) rotate(80)"><ellipse rx="12.1" ry="6.4" fill="#eb1c24"/><ellipse rx="8.5" ry="2.7" fill="#f58d6f"/></g><g transform="translate(612,264) rotate(72)"><ellipse rx="12.1" ry="6.4" fill="#eb1c24"/><ellipse rx="8.5" ry="2.7" fill="#f58d6f"/></g><g transform="translate(566.9,332) rotate(70)"><ellipse rx="12.1" ry="6.4" fill="#eb1c24"/><ellipse rx="8.5" ry="2.7" fill="#f58d6f"/></g><g transform="translate(592.3,328.7) rotate(35)"><ellipse rx="12.1" ry="6.4" fill="#eb1c24"/><ellipse rx="8.5" ry="2.7" fill="#f58d6f"/></g><g transform="translate(611.3,330) rotate(68)"><ellipse rx="12.1" ry="6.4" fill="#eb1c24"/><ellipse rx="8.5" ry="2.7" fill="#f58d6f"/></g><g transform="translate(621.6,343.7) rotate(70)"><ellipse rx="12.1" ry="6.4" fill="#eb1c24"/><ellipse rx="8.5" ry="2.7" fill="#f58d6f"/></g><g transform="translate(638.2,332) rotate(80)"><ellipse rx="12.1" ry="6.4" fill="#eb1c24"/><ellipse rx="8.5" ry="2.7" fill="#f58d6f"/></g><g transform="translate(575.6,358) rotate(-35)"><ellipse rx="12.1" ry="6.4" fill="#eb1c24"/><ellipse rx="8.5" ry="2.7" fill="#f58d6f"/></g><g transform="translate(600.2,353.2) rotate(-65)"><ellipse rx="12.1" ry="6.4" fill="#eb1c24"/><ellipse rx="8.5" ry="2.7" fill="#f58d6f"/></g><g transform="translate(594.6,374.6) rotate(70)"><ellipse rx="12.1" ry="6.4" fill="#eb1c24"/><ellipse rx="8.5" ry="2.7" fill="#f58d6f"/></g><g transform="translate(627.9,368.3) rotate(75)"><ellipse rx="12.1" ry="6.4" fill="#eb1c24"/><ellipse rx="8.5" ry="2.7" fill="#f58d6f"/></g><g transform="translate(643,361.2) rotate(-60)"><ellipse rx="12.1" ry="6.4" fill="#eb1c24"/><ellipse rx="8.5" ry="2.7" fill="#f58d6f"/></g><g transform="translate(579.6,386.5) rotate(75)"><ellipse rx="12.1" ry="6.4" fill="#eb1c24"/><ellipse rx="8.5" ry="2.7" fill="#f58d6f"/></g><g transform="translate(617.6,394.4) rotate(-8)"><ellipse rx="12.1" ry="6.4" fill="#eb1c24"/><ellipse rx="8.5" ry="2.7" fill="#f58d6f"/></g><g transform="translate(642.2,396) rotate(70)"><ellipse rx="12.1" ry="6.4" fill="#eb1c24"/><ellipse rx="8.5" ry="2.7" fill="#f58d6f"/></g><g transform="translate(563,406) rotate(72)"><ellipse rx="12.1" ry="6.4" fill="#eb1c24"/><ellipse rx="8.5" ry="2.7" fill="#f58d6f"/></g><g transform="translate(595.4,403.2) rotate(35)"><ellipse rx="12.1" ry="6.4" fill="#eb1c24"/><ellipse rx="8.5" ry="2.7" fill="#f58d6f"/></g><g transform="translate(622.4,406.3) rotate(80)"><ellipse rx="12.1" ry="6.4" fill="#eb1c24"/><ellipse rx="8.5" ry="2.7" fill="#f58d6f"/></g><g transform="translate(610.5,429.3) rotate(-50)"><ellipse rx="12.1" ry="6.4" fill="#eb1c24"/><ellipse rx="8.5" ry="2.7" fill="#f58d6f"/></g><g transform="translate(646.1,432.5) rotate(-55)"><ellipse rx="12.1" ry="6.4" fill="#eb1c24"/><ellipse rx="8.5" ry="2.7" fill="#f58d6f"/></g><g transform="translate(605.7,466.6) rotate(80)"><ellipse rx="12.1" ry="6.4" fill="#eb1c24"/><ellipse rx="8.5" ry="2.7" fill="#f58d6f"/></g><g transform="translate(593,477.7) rotate(-35)"><ellipse rx="12.1" ry="6.4" fill="#eb1c24"/><ellipse rx="8.5" ry="2.7" fill="#f58d6f"/></g><g transform="translate(616.8,477.7) rotate(70)"><ellipse rx="12.1" ry="6.4" fill="#eb1c24"/><ellipse rx="8.5" ry="2.7" fill="#f58d6f"/></g><g transform="translate(616.8,492.5) rotate(70)"><ellipse rx="12.1" ry="6.4" fill="#eb1c24"/><ellipse rx="8.5" ry="2.7" fill="#f58d6f"/></g><g transform="translate(590.7,503) rotate(-40)"><ellipse rx="12.1" ry="6.4" fill="#eb1c24"/><ellipse rx="8.5" ry="2.7" fill="#f58d6f"/></g><g transform="translate(630.5,502) rotate(-58)"><ellipse rx="12.1" ry="6.4" fill="#eb1c24"/><ellipse rx="8.5" ry="2.7" fill="#f58d6f"/></g><g transform="translate(643.8,505) rotate(75)"><ellipse rx="12.1" ry="6.4" fill="#eb1c24"/><ellipse rx="8.5" ry="2.7" fill="#f58d6f"/></g><g transform="translate(613.6,511.7) rotate(-40)"><ellipse rx="12.1" ry="6.4" fill="#eb1c24"/><ellipse rx="8.5" ry="2.7" fill="#f58d6f"/></g><g transform="translate(594.6,519.6) rotate(-35)"><ellipse rx="12.1" ry="6.4" fill="#eb1c24"/><ellipse rx="8.5" ry="2.7" fill="#f58d6f"/></g><g transform="translate(566.9,517.2) rotate(-65)"><ellipse rx="12.1" ry="6.4" fill="#eb1c24"/><ellipse rx="8.5" ry="2.7" fill="#f58d6f"/></g><g transform="translate(637.4,520.4) rotate(-5)"><ellipse rx="12.1" ry="6.4" fill="#eb1c24"/><ellipse rx="8.5" ry="2.7" fill="#f58d6f"/></g><g transform="translate(579.6,534.7) rotate(35)"><ellipse rx="12.1" ry="6.4" fill="#eb1c24"/><ellipse rx="8.5" ry="2.7" fill="#f58d6f"/></g><g transform="translate(635.8,538.5) rotate(-50)"><ellipse rx="12.1" ry="6.4" fill="#eb1c24"/><ellipse rx="8.5" ry="2.7" fill="#f58d6f"/></g><g transform="translate(565.5,547) rotate(10)"><ellipse rx="12.1" ry="6.4" fill="#eb1c24"/><ellipse rx="8.5" ry="2.7" fill="#f58d6f"/></g><g transform="translate(577.5,557) rotate(-50)"><ellipse rx="12.1" ry="6.4" fill="#eb1c24"/><ellipse rx="8.5" ry="2.7" fill="#f58d6f"/></g><g transform="translate(637.5,558) rotate(-5)"><ellipse rx="12.1" ry="6.4" fill="#eb1c24"/><ellipse rx="8.5" ry="2.7" fill="#f58d6f"/></g><g transform="translate(592.6,566) rotate(72)"><ellipse rx="12.1" ry="6.4" fill="#eb1c24"/><ellipse rx="8.5" ry="2.7" fill="#f58d6f"/></g><g transform="translate(582.3,582) rotate(-5)"><ellipse rx="12.1" ry="6.4" fill="#eb1c24"/><ellipse rx="8.5" ry="2.7" fill="#f58d6f"/></g><g transform="translate(600.2,588.3) rotate(-65)"><ellipse rx="12.1" ry="6.4" fill="#eb1c24"/><ellipse rx="8.5" ry="2.7" fill="#f58d6f"/></g><g transform="translate(636,585.4) rotate(72)"><ellipse rx="12.1" ry="6.4" fill="#eb1c24"/><ellipse rx="8.5" ry="2.7" fill="#f58d6f"/></g>
<line x1="604.7" y1="78" x2="604.7" y2="612" stroke="#000" stroke-width="3.4"/>
<path d="M604.8,50.6 L617.6,81.4 L604.8,78.6 L592,81.4 Z" fill="#000"/>
<g transform="translate(608.1,219.1) rotate(-8)"><ellipse rx="12.1" ry="6.4" fill="#eb1c24"/><ellipse rx="8.5" ry="2.7" fill="#f58d6f"/></g><g transform="translate(595.4,245) rotate(-5)"><ellipse rx="12.1" ry="6.4" fill="#eb1c24"/><ellipse rx="8.5" ry="2.7" fill="#f58d6f"/></g><g transform="translate(604.1,286) rotate(-5)"><ellipse rx="12.1" ry="6.4" fill="#eb1c24"/><ellipse rx="8.5" ry="2.7" fill="#f58d6f"/></g><g transform="translate(601.8,313.7) rotate(75)"><ellipse rx="12.1" ry="6.4" fill="#eb1c24"/><ellipse rx="8.5" ry="2.7" fill="#f58d6f"/></g><g transform="translate(610.5,384.1) rotate(-8)"><ellipse rx="12.1" ry="6.4" fill="#eb1c24"/><ellipse rx="8.5" ry="2.7" fill="#f58d6f"/></g><g transform="translate(597.4,415) rotate(-5)"><ellipse rx="12.1" ry="6.4" fill="#eb1c24"/><ellipse rx="8.5" ry="2.7" fill="#f58d6f"/></g><g transform="translate(601.8,450) rotate(-5)"><ellipse rx="12.1" ry="6.4" fill="#eb1c24"/><ellipse rx="8.5" ry="2.7" fill="#f58d6f"/></g><g transform="translate(612.9,536.3) rotate(-8)"><ellipse rx="12.1" ry="6.4" fill="#eb1c24"/><ellipse rx="8.5" ry="2.7" fill="#f58d6f"/></g><g transform="translate(608.8,571) rotate(-8)"><ellipse rx="12.1" ry="6.4" fill="#eb1c24"/><ellipse rx="8.5" ry="2.7" fill="#f58d6f"/></g>
</g>
<g id="vein-dvt">
<path d="M921.8,127.6 A64,38.4 0 0 1 1047.8,127.6 L1047.8,597.5 L1041.9,596.3 L1041.9,140 L928.3,140 L928.3,596.3 L921.8,597.7 Z" fill="#b8c7ef" stroke="#5474c6" stroke-width="1.2" stroke-linejoin="round"/><path d="M922.4,128.6 L922.4,597.5" stroke="#5474c6" stroke-width="2.4" fill="none"/><path d="M1047.2,128.6 L1047.2,597.2" stroke="#5474c6" stroke-width="2.4" fill="none"/><path d="M928.3,123.4 A64,38.4 0 0 1 1041.9,124.1 L1041.9,596.5 Q984.8,553 928.3,596.5 Z" fill="url(#lumD)" stroke="#5474c6" stroke-width="1.2" stroke-linejoin="round"/><path d="M922.2,127.9 A64,38.4 0 0 1 1047.4,127.9 L1047.4,128 L1044.8,128 A64,38.4 0 0 0 924.8,128 L922.2,128 Z" fill="#e9ebfb" stroke="#5474c6" stroke-width="1.0" stroke-linejoin="round"/>
<g clip-path="url(#lumclipD)"><path d="M961.5,247C961.4,248.5 961.1,253.1 960.7,256C960.3,258.9 960.2,261 959.1,264.5C958,268 956.1,273.4 954.3,277.2C952.4,281 949.9,284.9 948,287.2C946.1,289.5 945,290 942.9,291.2C940.8,292.4 937.8,293.7 935.3,294.6C932.8,295.5 929.4,296.4 928.2,296.8L928.2,310.8C929.4,311.2 932.5,312.8 935.3,313.2C938.1,313.6 941.6,313.7 944.8,313C948,312.3 951.4,311.2 954.3,309.2C957.2,307.2 960.1,304.6 962.3,301.2C964.5,297.8 966.3,293.3 967.3,289C968.3,284.7 968.5,280.2 968.3,275.6C968.1,271 967.3,266.2 966.2,261.4C965.1,256.6 962.3,249.4 961.5,247Z" fill="#b1c5ee" stroke="#2f5cb8" stroke-width="1.4" stroke-linejoin="round"/><path d="M961.5,247C962.3,249.4 965.1,256.6 966.2,261.4C967.3,266.2 968.1,271 968.3,275.6C968.5,280.2 968.3,284.7 967.3,289C966.3,293.3 964.5,297.8 962.3,301.2C960.1,304.6 957.2,307.2 954.3,309.2C951.4,311.2 948,312.3 944.8,313C941.6,313.7 938.1,313.6 935.3,313.2C932.5,312.8 929.4,311.2 928.2,310.8C929.4,310.3 932.8,309.1 935.3,307.9C937.8,306.7 940.4,305.4 942.9,303.5C945.4,301.6 948.2,299.3 950.5,296.5C952.8,293.7 955,290.4 956.7,286.7C958.4,282.9 959.8,278.5 960.7,274C961.6,269.5 961.8,264.3 961.9,259.8C962,255.3 961.6,249.1 961.5,247Z" fill="#6c93d5" stroke="#2f5cb8" stroke-width="1.4" stroke-linejoin="round"/><path d="M1008.1,247C1008.2,248.5 1008.5,253.1 1008.9,256C1009.3,258.9 1009.4,261 1010.5,264.5C1011.6,268 1013.4,273.4 1015.3,277.2C1017.1,281 1019.7,284.9 1021.6,287.2C1023.5,289.5 1024.6,290 1026.7,291.2C1028.8,292.4 1031.8,293.7 1034.3,294.6C1036.8,295.5 1040.2,296.4 1041.4,296.8L1041.4,312.6C1040.2,312.9 1037.1,314.4 1034.3,314.6C1031.5,314.7 1028,314.6 1024.8,313.7C1021.6,312.8 1018.2,311.3 1015.3,309.2C1012.4,307.2 1009.5,304.6 1007.3,301.2C1005.1,297.8 1003.3,293.3 1002.3,289C1001.3,284.7 1001.1,280.2 1001.3,275.6C1001.5,271 1002.3,266.2 1003.4,261.4C1004.5,256.6 1007.3,249.4 1008.1,247Z" fill="#b1c5ee" stroke="#2f5cb8" stroke-width="1.4" stroke-linejoin="round"/><path d="M1008.1,247C1007.3,249.4 1004.5,256.6 1003.4,261.4C1002.3,266.2 1001.5,271 1001.3,275.6C1001.1,280.2 1001.3,284.7 1002.3,289C1003.3,293.3 1005.1,297.8 1007.3,301.2C1009.5,304.6 1012.4,307.2 1015.3,309.2C1018.2,311.3 1021.6,312.8 1024.8,313.7C1028,314.6 1031.5,314.7 1034.3,314.6C1037.1,314.4 1040.2,312.9 1041.4,312.6C1040.2,312 1036.8,310.6 1034.3,309.2C1031.8,307.9 1029.2,306.4 1026.7,304.3C1024.2,302.2 1021.4,299.7 1019.1,296.8C1016.8,293.9 1014.6,290.5 1012.9,286.7C1011.2,282.9 1009.8,278.5 1008.9,274C1008,269.5 1007.8,264.3 1007.7,259.8C1007.6,255.3 1008,249.1 1008.1,247Z" fill="#6c93d5" stroke="#2f5cb8" stroke-width="1.4" stroke-linejoin="round"/><path d="M961.5,420C961.4,421.5 961.1,426.1 960.7,429C960.3,431.9 960.2,434 959.1,437.5C958,441 956.1,446.4 954.3,450.2C952.4,454 949.9,457.9 948,460.2C946.1,462.5 945,463 942.9,464.2C940.8,465.4 937.8,466.7 935.3,467.6C932.8,468.5 929.4,469.4 928.2,469.8L928.2,483.8C929.4,484.2 932.5,485.8 935.3,486.2C938.1,486.6 941.6,486.7 944.8,486C948,485.3 951.4,484.2 954.3,482.2C957.2,480.2 960.1,477.6 962.3,474.2C964.5,470.8 966.3,466.3 967.3,462C968.3,457.7 968.5,453.2 968.3,448.6C968.1,444 967.3,439.2 966.2,434.4C965.1,429.6 962.3,422.4 961.5,420Z" fill="#b1c5ee" stroke="#2f5cb8" stroke-width="1.4" stroke-linejoin="round"/><path d="M961.5,420C962.3,422.4 965.1,429.6 966.2,434.4C967.3,439.2 968.1,444 968.3,448.6C968.5,453.2 968.3,457.7 967.3,462C966.3,466.3 964.5,470.8 962.3,474.2C960.1,477.6 957.2,480.2 954.3,482.2C951.4,484.2 948,485.3 944.8,486C941.6,486.7 938.1,486.6 935.3,486.2C932.5,485.8 929.4,484.2 928.2,483.8C929.4,483.3 932.8,482.1 935.3,480.9C937.8,479.7 940.4,478.4 942.9,476.5C945.4,474.6 948.2,472.3 950.5,469.5C952.8,466.7 955,463.4 956.7,459.7C958.4,455.9 959.8,451.5 960.7,447C961.6,442.5 961.8,437.3 961.9,432.8C962,428.3 961.6,422.1 961.5,420Z" fill="#6c93d5" stroke="#2f5cb8" stroke-width="1.4" stroke-linejoin="round"/><path d="M1008.1,420C1008.2,421.5 1008.5,426.1 1008.9,429C1009.3,431.9 1009.4,434 1010.5,437.5C1011.6,441 1013.4,446.4 1015.3,450.2C1017.1,454 1019.7,457.9 1021.6,460.2C1023.5,462.5 1024.6,463 1026.7,464.2C1028.8,465.4 1031.8,466.7 1034.3,467.6C1036.8,468.5 1040.2,469.4 1041.4,469.8L1041.4,485.6C1040.2,485.9 1037.1,487.4 1034.3,487.6C1031.5,487.7 1028,487.6 1024.8,486.7C1021.6,485.8 1018.2,484.3 1015.3,482.2C1012.4,480.2 1009.5,477.6 1007.3,474.2C1005.1,470.8 1003.3,466.3 1002.3,462C1001.3,457.7 1001.1,453.2 1001.3,448.6C1001.5,444 1002.3,439.2 1003.4,434.4C1004.5,429.6 1007.3,422.4 1008.1,420Z" fill="#b1c5ee" stroke="#2f5cb8" stroke-width="1.4" stroke-linejoin="round"/><path d="M1008.1,420C1007.3,422.4 1004.5,429.6 1003.4,434.4C1002.3,439.2 1001.5,444 1001.3,448.6C1001.1,453.2 1001.3,457.7 1002.3,462C1003.3,466.3 1005.1,470.8 1007.3,474.2C1009.5,477.6 1012.4,480.2 1015.3,482.2C1018.2,484.3 1021.6,485.8 1024.8,486.7C1028,487.6 1031.5,487.7 1034.3,487.6C1037.1,487.4 1040.2,485.9 1041.4,485.6C1040.2,485 1036.8,483.6 1034.3,482.2C1031.8,480.9 1029.2,479.4 1026.7,477.3C1024.2,475.2 1021.4,472.7 1019.1,469.8C1016.8,466.9 1014.6,463.5 1012.9,459.7C1011.2,455.9 1009.8,451.5 1008.9,447C1008,442.5 1007.8,437.3 1007.7,432.8C1007.6,428.3 1008,422.1 1008.1,420Z" fill="#6c93d5" stroke="#2f5cb8" stroke-width="1.4" stroke-linejoin="round"/><path d="M926.3,135.5C929.2,135.8 940.1,135.5 943.5,137.4C946.9,139.3 945.4,144.3 946.7,147C948,149.7 951.1,150.9 951.5,153.3C951.9,155.7 949,157.8 949,161.2C949,164.6 950,170.7 951.5,173.9C953,177.1 957.3,177.6 957.8,180.2C958.3,182.8 955.5,186.4 954.6,189.7C953.7,193 952.2,196.9 952.2,200C952.2,203.1 953.1,205.1 954.6,208C956.1,210.9 959.3,214 961,217.4C962.7,220.8 964.8,224.8 965,228.5C965.2,232.2 963.1,236.5 962.5,239.6C961.9,242.7 961.8,244.3 961.5,247C961.2,249.7 961.1,253.1 960.7,256C960.3,258.9 960.2,261 959.1,264.5C958,268 956.1,273.4 954.3,277.2C952.4,281 949.9,284.9 948,287.2C946.1,289.5 945,290 942.9,291.2C940.8,292.4 937.8,293.7 935.3,294.6C932.8,295.5 929.4,296.4 928.2,296.8L926.3,297.5Z" fill="#ed1c24"/><path d="M943.5,137.4C945.4,139 945.4,144.3 946.7,147C948,149.7 951.1,150.9 951.5,153.3C951.9,155.7 949,157.8 949,161.2C949,164.6 950,170.7 951.5,173.9C953,177.1 957.3,177.6 957.8,180.2C958.3,182.8 955.5,186.4 954.6,189.7C953.7,193 952.2,196.9 952.2,200C952.2,203.1 953.1,205.1 954.6,208C956.1,210.9 959.3,214 961,217.4C962.7,220.8 964.8,224.8 965,228.5C965.2,232.2 963.1,236.5 962.5,239.6C961.9,242.7 961.9,246.2 961.2,247C960.6,247.8 959.4,246.7 958.6,244.4C957.8,242.1 958.9,236.7 956.2,233.3C953.6,229.9 944.3,227 942.7,223.8C941.1,220.6 947.4,217.3 946.7,214.3C946.1,211.3 939.3,208.9 938.8,205.6C938.3,202.3 943.1,198.2 943.5,194.5C943.9,190.8 941.4,187.1 941.1,183.4C940.9,179.7 942.6,176.3 942,172.3C941.4,168.3 937.7,163.6 937.2,159.6C936.7,155.6 939.1,152.2 938.8,148.5C938.5,144.8 934.8,139.2 935.6,137.4C936.4,135.6 941.6,135.8 943.5,137.4Z" fill="#cc222c" /><path d="M1043.9,134.5C1042.1,135 1035.5,135.3 1033,137.4C1030.5,139.5 1030.4,143.6 1029,147C1027.6,150.4 1026.5,153.8 1024.4,158C1022.3,162.2 1018.5,167.5 1016.4,172.3C1014.3,177.1 1012.8,182.1 1011.7,186.6C1010.6,191.1 1010,195.4 1010,199.2C1010,203 1012.4,205.9 1011.7,209.5C1011.1,213.1 1006.9,216.9 1006.1,220.6C1005.3,224.3 1006.5,228 1007,231.7C1007.5,235.4 1008.8,240.4 1009,243C1009.2,245.6 1008.1,244.8 1008.1,247C1008.1,249.2 1008.5,253.1 1008.9,256C1009.3,258.9 1009.4,261 1010.5,264.5C1011.6,268 1013.4,273.4 1015.3,277.2C1017.1,281 1019.7,284.9 1021.6,287.2C1023.5,289.5 1024.6,290 1026.7,291.2C1028.8,292.4 1031.8,293.7 1034.3,294.6C1036.8,295.5 1040.2,296.4 1041.4,296.8L1043.9,297.5Z" fill="#ed1c24"/><path d="M1033,137.4C1031.3,139.2 1030.4,143.6 1029,147C1027.6,150.4 1026.5,153.8 1024.4,158C1022.3,162.2 1018.5,167.5 1016.4,172.3C1014.3,177.1 1012.8,182.1 1011.7,186.6C1010.6,191.1 1010,195.4 1010,199.2C1010,203 1012.4,205.9 1011.7,209.5C1011.1,213.1 1006.9,216.9 1006.1,220.6C1005.3,224.3 1006.5,227.5 1007,231.7C1007.5,235.9 1008.5,244.2 1009.4,246C1010.3,247.8 1011.1,245.2 1012.5,242.8C1013.9,240.4 1016.7,235.4 1018,231.7C1019.3,228 1020.4,224.3 1020.4,220.6C1020.4,216.9 1017.3,213.1 1018,209.5C1018.7,205.9 1022.6,202.5 1024.4,199.2C1026.2,195.9 1028,193.4 1029,189.7C1030,186 1030.8,180.9 1030.7,177C1030.6,173.1 1027.9,169.4 1028.3,166C1028.7,162.6 1032.3,159.9 1033,156.5C1033.7,153.1 1031.3,148.8 1032.3,145.4C1033.3,142 1038.9,137.3 1039,136C1039.1,134.7 1034.7,135.6 1033,137.4Z" fill="#cc222c" /><path d="M926.3,310C927.9,309.9 933.1,310 936,309.6C938.9,309.2 941,308.4 943.5,307.6C946,306.8 948.6,305.6 951,304.6C953.4,303.6 956,301.9 957.8,301.6C959.6,301.3 961.2,301.3 962,303C962.8,304.7 962.7,308.9 962.5,311.7C962.3,314.5 960.7,317 961,319.6C961.3,322.2 964.1,324.3 964.1,327.5C964.1,330.7 962.6,335.2 961,338.6C959.4,342 957.1,344.6 954.6,348C952.1,351.4 947.5,355.5 945.9,359.2C944.3,362.9 945.5,364.9 945.1,370.3C944.7,375.7 943.2,386.3 943.5,391.7C943.8,397.1 944.7,399.1 946.7,402.8C948.7,406.5 952.9,411 955.4,413.9C957.9,416.8 960.6,417.5 961.5,420C962.4,422.5 961.1,426.1 960.7,429C960.3,431.9 960.2,434 959.1,437.5C958,441 956.1,446.4 954.3,450.2C952.4,454 949.9,457.9 948,460.2C946.1,462.5 945,463 942.9,464.2C940.8,465.4 937.8,466.7 935.3,467.6C932.8,468.5 929.4,469.4 928.2,469.8L926.3,471Z" fill="#ed1c24"/><path d="M964.1,327.5C963.9,329.6 962.6,335.2 961,338.6C959.4,342 957.1,344.6 954.6,348C952.1,351.4 947.5,355.5 945.9,359.2C944.3,362.9 945.5,364.9 945.1,370.3C944.7,375.7 943.2,386.3 943.5,391.7C943.8,397.1 944.7,399.1 946.7,402.8C948.7,406.5 953,410.9 955.4,413.9C957.8,416.9 960.5,417.6 961.2,420.6C961.9,423.6 960.3,428.1 959.6,432C958.9,435.9 957.8,441.1 957,444C956.2,446.9 955,450.8 954.6,449.5C954.2,448.2 955.5,440.4 954.6,436C953.7,431.6 951.5,428.1 949,423.4C946.5,418.6 942,412 939.6,407.5C937.2,403 934.7,401 934.8,396.5C934.9,392 940,385.1 940.4,380.6C940.8,376.1 937.5,373.3 937.2,369.5C936.9,365.7 937.8,361.8 938.8,358C939.8,354.2 941.1,350.4 943.5,346.6C945.9,342.9 949.8,338.9 953,335.5C956.2,332.1 960.6,327.3 962.5,326C964.4,324.7 964.4,325.4 964.1,327.5Z" fill="#cc222c" /><path d="M1043.9,319.6C1042.2,319.6 1036.9,320.2 1033.9,319.6C1030.9,319 1028.9,317.1 1026,315.7C1023.1,314.3 1019.1,311.7 1016.4,311C1013.7,310.3 1011.7,310.5 1010,311.7C1008.3,312.9 1006.9,315.4 1006.1,318C1005.3,320.6 1006.1,323.3 1005.3,327.5C1004.5,331.7 1001.8,338.9 1001.4,343.4C1001,347.9 1002.6,351.7 1003,354.5C1003.4,357.3 1002.8,357.5 1003.7,360C1004.6,362.5 1007,365.5 1008.5,369.5C1010,373.5 1012,378.8 1012.5,383.8C1013,388.8 1010.5,395.1 1011.7,399.6C1012.9,404.1 1018.8,406.7 1019.6,410.7C1020.4,414.7 1016.9,419.2 1016.4,423.4C1015.9,427.6 1016.8,431.7 1016.6,436C1016.4,440.3 1015.6,446.6 1015.4,449C1015.2,451.4 1014.3,448.3 1015.3,450.2C1016.3,452.1 1019.7,457.9 1021.6,460.2C1023.5,462.5 1024.6,463 1026.7,464.2C1028.8,465.4 1031.8,466.7 1034.3,467.6C1036.8,468.5 1040.2,469.4 1041.4,469.8L1043.9,471Z" fill="#ed1c24"/><path d="M1010,311.7C1009.2,312.2 1006.9,315.4 1006.1,318C1005.3,320.6 1006.1,323.3 1005.3,327.5C1004.5,331.7 1001.8,338.9 1001.4,343.4C1001,347.9 1002.6,351.7 1003,354.5C1003.4,357.3 1002.8,357.5 1003.7,360C1004.6,362.5 1007,365.5 1008.5,369.5C1010,373.5 1012,378.8 1012.5,383.8C1013,388.8 1010.5,395.1 1011.7,399.6C1012.9,404.1 1018.8,406.7 1019.6,410.7C1020.4,414.7 1016.7,419.2 1016.4,423.4C1016.1,427.6 1017.5,431.8 1018,436C1018.5,440.2 1017.8,446.3 1019.6,448.7C1021.4,451.1 1026.4,451.4 1029,450.3C1031.6,449.2 1034.1,446.3 1035.4,442.4C1036.7,438.4 1037.2,431.4 1037,426.6C1036.8,421.9 1035.7,418.1 1033.9,413.9C1032.1,409.7 1027.1,405.4 1026,401.2C1024.9,397 1027.8,392.7 1027.5,388.5C1027.2,384.3 1026.2,380.2 1024.4,375.8C1022.7,371.4 1019.4,365.3 1017,362C1014.6,358.7 1011.8,359.1 1010,356C1008.2,352.9 1005.5,346.8 1006,343.4C1006.5,340 1012.6,338.1 1013.3,335.5C1014,332.9 1010.4,330.9 1010,327.5C1009.6,324.1 1011,317.6 1011,315C1011,312.4 1010.8,311.2 1010,311.7Z" fill="#cc222c" /><path d="M926.3,485.2C928,485.1 933.7,485.2 936.6,484.6C939.5,484 941.3,482.7 943.5,481.6C945.7,480.5 947.9,479.2 950,478C952.1,476.8 954.1,474.6 956.2,474.2C958.3,473.8 961.5,474.4 962.5,475.6C963.5,476.8 963.5,478.7 962.5,481.2C961.5,483.7 958.3,487 956.2,490.7C954.1,494.4 951.4,499.2 949.9,503.4C948.4,507.6 948.7,513.2 947.5,516C946.3,518.8 943.8,516.7 942.7,520C941.6,523.3 941.8,530.5 941.1,535.8C940.5,541.1 939.6,546.4 938.8,551.7C938,557 937.2,562.2 936.4,567.5C935.6,572.8 935.1,579 934,583.4C932.9,587.8 931.3,591.2 930,594C928.7,596.8 926.9,599 926.3,600Z" fill="#ed1c24"/><path d="M956.2,474C957.6,473.6 961.5,474.4 962.5,475.6C963.5,476.8 963.5,478.7 962.5,481.2C961.5,483.7 958.3,487 956.2,490.7C954.1,494.4 951.4,499.2 949.9,503.4C948.4,507.6 948.7,512.6 947.5,516C946.3,519.4 943.8,520.7 942.7,524C941.6,527.3 941.8,531.2 941.1,535.8C940.5,540.4 939.6,546.4 938.8,551.7C938,557 937.2,562.2 936.4,567.5C935.6,572.8 935,579.3 934,583.4C933,587.5 931.3,591.5 930.6,592C929.9,592.5 930,593.3 930,586.6C930,579.9 930.1,560.3 930.8,551.7C931.5,543.1 932.4,540.4 934,535C935.6,529.6 939.1,523.9 940.4,519.2C941.7,514.5 941,510.3 942,506.6C943,502.9 945.1,500.4 946.7,497C948.3,493.6 950.4,489.2 951.6,486C952.8,482.8 953.2,480 954,478C954.8,476 954.8,474.4 956.2,474Z" fill="#cc222c" /></g>
<rect x="927" y="298.2" width="2.6" height="12.6" fill="#b8c7ef"/><rect x="1040.6" y="298.2" width="2.6" height="12.6" fill="#b8c7ef"/><rect x="927" y="471.2" width="2.6" height="12.6" fill="#b8c7ef"/><rect x="1040.6" y="471.2" width="2.6" height="12.6" fill="#b8c7ef"/>
<g transform="translate(987.1,168.3) rotate(75)"><ellipse rx="12.1" ry="6.4" fill="#eb1c24"/><ellipse rx="8.5" ry="2.7" fill="#f58d6f"/></g><g transform="translate(992.7,315.7) rotate(3)"><ellipse rx="12.1" ry="6.4" fill="#eb1c24"/><ellipse rx="8.5" ry="2.7" fill="#f58d6f"/></g><g transform="translate(969.7,484.4) rotate(-30)"><ellipse rx="12.1" ry="6.4" fill="#eb1c24"/><ellipse rx="8.5" ry="2.7" fill="#f58d6f"/></g>
<g clip-path="url(#lumclipD)"><path d="M1006,486C1006.7,481.5 1008.3,483.6 1010,482.8C1011.7,482 1013.7,481.6 1016.4,481.2C1019.1,480.8 1023.1,480.2 1026,480.4C1028.9,480.6 1031,481.5 1034,482.4C1037,483.3 1042.2,476 1043.9,485.6C1045.6,495.2 1043.9,520.9 1043.9,540C1043.9,559.1 1045.4,590 1043.9,600C1042.4,610 1036.8,601.5 1035,600C1033.2,598.5 1033.9,593.1 1033,591C1032.1,588.9 1030.7,589.2 1029.4,587.2C1028.1,585.2 1026.3,581.6 1025,579C1023.7,576.4 1022.6,574.7 1021.4,571.5C1020.2,568.3 1019.6,565.2 1018,560C1016.4,554.8 1014,548.3 1012,540C1010,531.7 1007,519 1006,510C1005,501 1005.3,490.5 1006,486Z" fill="#ed1c24" /></g><path d="M984.7,467.7C981.5,467.7 980.2,473.7 978.4,476.5C976.5,479.3 976,481.5 973.6,484.4C971.2,487.3 966.7,490.7 964.1,493.9C961.5,497.1 959.4,499.7 957.8,503.4C956.2,507.1 956.1,512.6 954.6,516C953.1,519.4 950.7,520.7 949,524C947.3,527.3 944.9,532 944.3,535.8C943.6,539.6 943.8,543.8 945.1,547C946.4,550.2 951.7,551.7 952.2,554.9C952.7,558.1 948.4,562.8 948.3,566C948.2,569.2 949.4,571.5 951.5,573.9C953.6,576.3 958.9,577.8 961,580.2C963.1,582.6 961.2,585.5 964.1,588.1C967,590.7 973.4,593.6 978.4,596C983.4,598.4 989.5,602.4 994.2,602.4C999,602.4 1003.5,598.1 1006.9,596C1010.3,593.9 1013.3,591.8 1014.9,589.7C1016.5,587.6 1016.2,585.7 1016.6,583.4C1017,581.1 1016.9,578.6 1017.4,576C1017.9,573.4 1019.2,570.2 1019.6,568C1020,565.8 1019.2,566.6 1019.6,562.8C1020,559 1021.3,552.1 1022,545C1022.7,537.9 1024,527.5 1024,520C1024,512.5 1023.3,506 1022,500C1020.7,494 1018.4,486.9 1016.4,484C1014.4,481.1 1013.2,484.1 1010,482.8C1006.8,481.6 1001.6,479 997.4,476.5C993.2,474 987.9,467.7 984.7,467.7Z" fill="#ed1c24" /><g clip-path="url(#clipbelowD)"><path d="M989.5,471.7C988.5,472.8 991.1,479.9 992.7,484.4C994.3,488.9 996.9,494.1 999,498.6C1001.1,503.1 1003.7,506.8 1005.3,511.3C1006.9,515.8 1007.2,521.5 1008.5,525.6C1009.8,529.7 1012,531.4 1013.3,535.8C1014.6,540.1 1015.3,547.2 1016.4,551.7C1017.5,556.2 1018.8,559.5 1019.6,562.8C1020.4,566.1 1020.5,568.8 1021.4,571.5C1022.3,574.2 1023.7,576.4 1025,579C1026.3,581.6 1027.9,585.2 1029.4,587.2C1030.9,589.2 1033.7,591.4 1033.9,591.3C1034.1,591.2 1031,589.5 1030.7,586.6C1030.4,583.7 1032.8,577.9 1032.3,573.9C1031.8,569.9 1027.6,566.2 1027.5,562.8C1027.4,559.4 1031.5,556.2 1031.5,553.3C1031.5,550.4 1027.9,548.3 1027.5,545.4C1027.1,542.5 1029.5,539.9 1029,535.8C1028.5,531.7 1024.7,525.1 1024.4,520.8C1024.2,516.4 1028.3,512.6 1027.5,509.7C1026.7,506.8 1021.2,506 1019.6,503.4C1018,500.8 1019.6,497.2 1018,493.9C1016.4,490.6 1013.2,486.3 1010,483.6C1006.8,480.9 1002.4,479.6 999,477.6C995.6,475.6 990.5,470.6 989.5,471.7Z" fill="#cc222c" /></g>
<g transform="translate(952.2,141.4) rotate(80)"><ellipse rx="12.1" ry="6.4" fill="#eb1c24"/><ellipse rx="8.5" ry="2.7" fill="#f58d6f"/></g><g transform="translate(955.9,166.7) rotate(80)"><ellipse rx="12.1" ry="6.4" fill="#eb1c24"/><ellipse rx="8.5" ry="2.7" fill="#f58d6f"/></g><g transform="translate(1016.4,148.5) rotate(-60)"><ellipse rx="12.1" ry="6.4" fill="#eb1c24"/><ellipse rx="8.5" ry="2.7" fill="#f58d6f"/></g><g transform="translate(976.8,179.4) rotate(-60)"><ellipse rx="12.1" ry="6.4" fill="#eb1c24"/><ellipse rx="8.5" ry="2.7" fill="#f58d6f"/></g><g transform="translate(1000.6,180.2) rotate(-3)"><ellipse rx="12.1" ry="6.4" fill="#eb1c24"/><ellipse rx="8.5" ry="2.7" fill="#f58d6f"/></g><g transform="translate(983.1,201.6) rotate(-8)"><ellipse rx="12.1" ry="6.4" fill="#eb1c24"/><ellipse rx="8.5" ry="2.7" fill="#f58d6f"/></g><g transform="translate(1002.2,202.5) rotate(73)"><ellipse rx="12.1" ry="6.4" fill="#eb1c24"/><ellipse rx="8.5" ry="2.7" fill="#f58d6f"/></g><g transform="translate(966.5,208.3) rotate(30)"><ellipse rx="12.1" ry="6.4" fill="#eb1c24"/><ellipse rx="8.5" ry="2.7" fill="#f58d6f"/></g><g transform="translate(990.3,225.4) rotate(70)"><ellipse rx="12.1" ry="6.4" fill="#eb1c24"/><ellipse rx="8.5" ry="2.7" fill="#f58d6f"/></g><g transform="translate(976,231.7) rotate(3)"><ellipse rx="12.1" ry="6.4" fill="#eb1c24"/><ellipse rx="8.5" ry="2.7" fill="#f58d6f"/></g><g transform="translate(984,247.5) rotate(75)"><ellipse rx="12.1" ry="6.4" fill="#eb1c24"/><ellipse rx="8.5" ry="2.7" fill="#f58d6f"/></g><g transform="translate(981.6,273.7) rotate(75)"><ellipse rx="12.1" ry="6.4" fill="#eb1c24"/><ellipse rx="8.5" ry="2.7" fill="#f58d6f"/></g><g transform="translate(985.5,290.3) rotate(-50)"><ellipse rx="12.1" ry="6.4" fill="#eb1c24"/><ellipse rx="8.5" ry="2.7" fill="#f58d6f"/></g><g transform="translate(979.2,318) rotate(80)"><ellipse rx="12.1" ry="6.4" fill="#eb1c24"/><ellipse rx="8.5" ry="2.7" fill="#f58d6f"/></g><g transform="translate(983.1,334.7) rotate(-8)"><ellipse rx="12.1" ry="6.4" fill="#eb1c24"/><ellipse rx="8.5" ry="2.7" fill="#f58d6f"/></g><g transform="translate(986.3,356.4) rotate(-8)"><ellipse rx="12.1" ry="6.4" fill="#eb1c24"/><ellipse rx="8.5" ry="2.7" fill="#f58d6f"/></g><g transform="translate(961.8,365.5) rotate(68)"><ellipse rx="12.1" ry="6.4" fill="#eb1c24"/><ellipse rx="8.5" ry="2.7" fill="#f58d6f"/></g><g transform="translate(953,376.5) rotate(-50)"><ellipse rx="12.1" ry="6.4" fill="#eb1c24"/><ellipse rx="8.5" ry="2.7" fill="#f58d6f"/></g><g transform="translate(975.6,379) rotate(-50)"><ellipse rx="12.1" ry="6.4" fill="#eb1c24"/><ellipse rx="8.5" ry="2.7" fill="#f58d6f"/></g><g transform="translate(999.5,383) rotate(-45)"><ellipse rx="12.1" ry="6.4" fill="#eb1c24"/><ellipse rx="8.5" ry="2.7" fill="#f58d6f"/></g><g transform="translate(955.9,396.8) rotate(-5)"><ellipse rx="12.1" ry="6.4" fill="#eb1c24"/><ellipse rx="8.5" ry="2.7" fill="#f58d6f"/></g><g transform="translate(987.9,400.4) rotate(-40)"><ellipse rx="12.1" ry="6.4" fill="#eb1c24"/><ellipse rx="8.5" ry="2.7" fill="#f58d6f"/></g><g transform="translate(968.1,408.3) rotate(5)"><ellipse rx="12.1" ry="6.4" fill="#eb1c24"/><ellipse rx="8.5" ry="2.7" fill="#f58d6f"/></g><g transform="translate(1008.5,410.7) rotate(0)"><ellipse rx="12.1" ry="6.4" fill="#eb1c24"/><ellipse rx="8.5" ry="2.7" fill="#f58d6f"/></g><g transform="translate(990.8,425.8) rotate(65)"><ellipse rx="12.1" ry="6.4" fill="#eb1c24"/><ellipse rx="8.5" ry="2.7" fill="#f58d6f"/></g><g transform="translate(983.9,440.8) rotate(-5)"><ellipse rx="12.1" ry="6.4" fill="#eb1c24"/><ellipse rx="8.5" ry="2.7" fill="#f58d6f"/></g><g transform="translate(989.5,459.8) rotate(-5)"><ellipse rx="12.1" ry="6.4" fill="#eb1c24"/><ellipse rx="8.5" ry="2.7" fill="#f58d6f"/></g>
<path d="M982.9,75.5C985,75.5 987.8,76.5 990.2,77.3C992.6,78 994.5,79.7 997.5,80C1000.5,80.3 1005.5,78.6 1008.4,79.1C1011.3,79.6 1013.4,81.1 1014.8,82.8C1016.2,84.5 1016.8,86.9 1016.6,89.2C1016.5,91.5 1013.8,93.4 1013.9,96.4C1014,99.4 1016.6,104.1 1017.5,107.4C1018.4,110.8 1019.4,113.2 1019.3,116.5C1019.1,119.8 1017.8,124.1 1016.6,127.4C1015.4,130.7 1013.7,133.5 1012,136.5C1010.3,139.5 1008.1,142.2 1006.6,145.6C1005.1,148.9 1004.4,153.7 1002.9,156.6C1001.4,159.5 999.6,163 997.5,163C995.4,163 992.6,156.9 990.2,156.6C987.8,156.3 985.3,160.6 982.9,161.1C980.5,161.6 978.3,161 975.6,159.3C972.9,157.6 969.2,154.3 966.5,151.1C963.8,147.9 961.3,144.1 959.2,140.2C957.1,136.2 955.1,131.7 953.7,127.4C952.3,123.2 952,118.7 951,114.7C950,110.8 947.7,106.8 947.4,103.7C947.1,100.7 947.7,98.1 949.2,96.4C950.7,94.7 955.6,95.5 956.5,93.7C957.4,91.9 954.1,87.6 954.6,85.5C955.1,83.4 956.3,81.9 959.2,81C962.1,80.1 969,80.6 972,80C975,79.4 975.6,78 977.4,77.3C979.2,76.5 980.8,75.5 982.9,75.5Z" fill="#ed1c24" /><path d="M1013.9,105.5C1014.7,104.9 1016.6,105.6 1017.5,107.4C1018.4,109.2 1019.4,113.2 1019.3,116.5C1019.1,119.8 1017.8,124.1 1016.6,127.4C1015.4,130.7 1013.7,133.5 1012,136.5C1010.3,139.5 1008.1,142.2 1006.6,145.6C1005.1,148.9 1004.4,153.7 1002.9,156.6C1001.4,159.5 999.1,162.7 997.5,163C995.9,163.3 993,160 993,158.6C993,157.2 996.1,157 997.5,154.8C998.9,152.6 999.9,148.7 1001.1,145.6C1002.3,142.5 1003.6,138.7 1004.8,136C1006,133.3 1007.2,131.9 1008.4,129.2C1009.6,126.5 1011.3,123 1012,120C1012.7,117 1012.3,113.4 1012.6,111C1012.9,108.6 1013.1,106.1 1013.9,105.5Z" fill="#cc222c" />
</g>
<line x1="695.7" y1="253.6" x2="635.8" y2="287.3" stroke="#fff" stroke-opacity="0.35" stroke-width="3"/>
<line x1="695.7" y1="253.6" x2="635.8" y2="287.3" stroke="#3c3c3c" stroke-width="1.7"/>
<line x1="1075.3" y1="84.2" x2="991.1" y2="111" stroke="#fff" stroke-opacity="0.35" stroke-width="3"/>
<line x1="1075.3" y1="84.2" x2="991.1" y2="111" stroke="#3c3c3c" stroke-width="1.7"/>
<line x1="1075.7" y1="253.7" x2="1016.4" y2="287.2" stroke="#fff" stroke-opacity="0.35" stroke-width="3"/>
<line x1="1075.7" y1="253.7" x2="1016.4" y2="287.2" stroke="#3c3c3c" stroke-width="1.7"/>
<line x1="1075.7" y1="347.5" x2="1030.7" y2="357.7" stroke="#fff" stroke-opacity="0.35" stroke-width="3"/>
<line x1="1075.7" y1="347.5" x2="1030.7" y2="357.7" stroke="#3c3c3c" stroke-width="1.7"/>
<text x="557.9" y="40.3" font-size="21" textLength="97.6" lengthAdjust="spacingAndGlyphs" fill="#111" stroke="#111" stroke-width="0.5" stroke-linejoin="round">Blood flow</text>
<text x="697.8" y="257.7" font-size="21" textLength="48.9" lengthAdjust="spacingAndGlyphs" fill="#111" stroke="#111" stroke-width="0.5" stroke-linejoin="round">Valve</text>
<text x="424.2" y="366" font-size="24" font-weight="bold" textLength="81" lengthAdjust="spacingAndGlyphs" fill="#111" stroke="#111" stroke-width="0.9" stroke-linejoin="round">Normal</text>
<text x="850.6" y="366" font-size="24" font-weight="bold" textLength="43.6" lengthAdjust="spacingAndGlyphs" fill="#111" stroke="#111" stroke-width="0.9" stroke-linejoin="round">DVT</text>
<text x="1080.6" y="90.7" font-size="21" textLength="88.9" lengthAdjust="spacingAndGlyphs" fill="#111" stroke="#111" stroke-width="0.5" stroke-linejoin="round">Detached</text>
<text x="1080.8" y="117.3" font-size="21" textLength="91.2" lengthAdjust="spacingAndGlyphs" fill="#111" stroke="#111" stroke-width="0.5" stroke-linejoin="round">blood clot</text>
<text x="1080.9" y="257.6" font-size="21" textLength="47.8" lengthAdjust="spacingAndGlyphs" fill="#111" stroke="#111" stroke-width="0.5" stroke-linejoin="round">Valve</text>
<text x="1080.8" y="354" font-size="21" textLength="52" lengthAdjust="spacingAndGlyphs" fill="#111" stroke="#111" stroke-width="0.5" stroke-linejoin="round">Blood</text>
<text x="1080.9" y="380.3" font-size="21" textLength="43.3" lengthAdjust="spacingAndGlyphs" fill="#111" stroke="#111" stroke-width="0.5" stroke-linejoin="round">clots</text>
</g>
</svg>
</body></html>
